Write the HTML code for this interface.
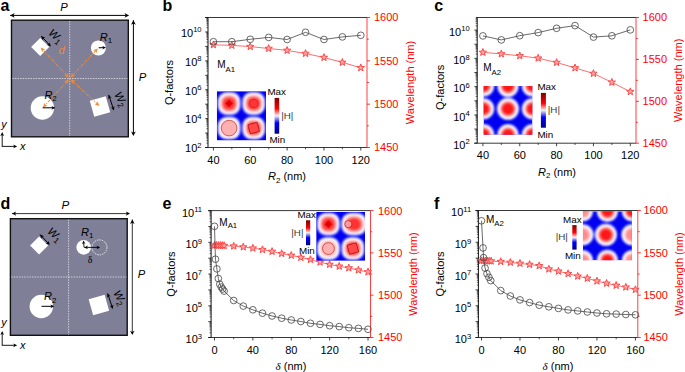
<!DOCTYPE html>
<html><head><meta charset="utf-8"><style>
html,body{margin:0;padding:0;background:#fff;}
body{width:685px;height:372px;overflow:hidden;font-family:"Liberation Sans", sans-serif;}
svg{display:block;}
</style></head><body>
<svg width="685" height="372" viewBox="0 0 685 372">
<defs>
<filter id="blur1" x="-20%" y="-20%" width="140%" height="140%"><feGaussianBlur stdDeviation="0.95"/></filter>
<filter id="blur05" x="-20%" y="-20%" width="140%" height="140%"><feGaussianBlur stdDeviation="0.45"/></filter>
<linearGradient id="cbar" x1="0" y1="0" x2="0" y2="1">
 <stop offset="0" stop-color="#800000"/>
 <stop offset="0.3" stop-color="#ff0000"/>
 <stop offset="0.5" stop-color="#f0f0f0"/>
 <stop offset="0.7" stop-color="#0000ff"/>
 <stop offset="1" stop-color="#000080"/>
</linearGradient>
</defs>
<g font-family='"Liberation Sans", sans-serif'>
<text x="0.6" y="11.3" font-size="16" font-weight="bold">a</text>
<text x="162.6" y="11.3" font-size="16" font-weight="bold">b</text>
<text x="434.3" y="11.3" font-size="16" font-weight="bold">c</text>
<text x="0.6" y="209.2" font-size="16" font-weight="bold">d</text>
<text x="162.6" y="209.2" font-size="16" font-weight="bold">e</text>
<text x="434.1" y="209.2" font-size="16" font-weight="bold">f</text>
<rect x="11.5" y="20.2" width="116.8" height="116.6" fill="#7f7f98" stroke="#111" stroke-width="1.4"/>
<line x1="69.7" y1="21" x2="69.7" y2="136" stroke="#d8d8e2" stroke-width="0.9" stroke-dasharray="1.5 1.1"/>
<line x1="12.3" y1="78.5" x2="127.5" y2="78.5" stroke="#d8d8e2" stroke-width="0.9" stroke-dasharray="1.5 1.1"/>
<rect x="33.8" y="40.6" width="12.8" height="12.8" fill="#fff" transform="rotate(45 40.2 47)"/>
<rect x="91.7" y="98.2" width="16.6" height="16.6" fill="#fff" transform="rotate(-15.6 100 106.5)"/>
<circle cx="42.4" cy="108" r="11.7" fill="#fff"/>
<circle cx="98.4" cy="47.9" r="7.5" fill="#fff"/>
<line x1="66.62" y1="75.22" x2="43.14" y2="50.14" stroke="#f08a32" stroke-width="1.1" stroke-dasharray="2.6 1.3 1 1.3"/>
<polygon points="69.02,77.77 63.85,75.76 66.56,75.14 67.35,72.48" fill="#f08a32"/>
<polygon points="40.75,47.58 45.5,49.44 43.01,50 42.29,52.45" fill="#f08a32"/>
<line x1="72.78" y1="75.22" x2="95.46" y2="51.04" stroke="#f08a32" stroke-width="1.1" stroke-dasharray="2.6 1.3 1 1.3"/>
<polygon points="70.38,77.77 72.05,72.48 72.85,75.14 75.56,75.77" fill="#f08a32"/>
<polygon points="97.85,48.48 96.31,53.34 95.59,50.9 93.1,50.33" fill="#f08a32"/>
<line x1="66.64" y1="81.8" x2="45.32" y2="104.84" stroke="#f08a32" stroke-width="1.1" stroke-dasharray="2.6 1.3 1 1.3"/>
<polygon points="69.02,79.23 67.39,84.53 66.58,81.88 63.86,81.27" fill="#f08a32"/>
<polygon points="42.94,107.41 44.45,102.54 45.19,104.98 47.68,105.53" fill="#f08a32"/>
<line x1="73" y1="81.55" x2="96.84" y2="103.58" stroke="#f08a32" stroke-width="1.1" stroke-dasharray="2.6 1.3 1 1.3"/>
<polygon points="70.43,79.18 75.74,80.81 73.08,81.62 72.48,84.33" fill="#f08a32"/>
<polygon points="99.41,105.96 94.54,104.45 96.98,103.71 97.53,101.22" fill="#f08a32"/>
<text x="58.6" y="53.8" font-size="11" font-style="italic" fill="#f08a32">d</text>
<line x1="41.2" y1="36.1" x2="49.56" y2="44.98" stroke="#000" stroke-width="1.0" /><polygon points="50.9,46.4 46.84,44.86 48.97,44.36 49.61,42.26" fill="#000"/><polygon points="41.2,36.1 45.26,37.64 43.13,38.14 42.49,40.24" fill="#000"/>
<line x1="108.7" y1="94.9" x2="113.28" y2="108.55" stroke="#000" stroke-width="1.0" /><polygon points="113.9,110.4 110.86,107.31 113.01,107.74 114.46,106.1" fill="#000"/><polygon points="108.7,94.9 111.74,97.99 109.59,97.56 108.14,99.2" fill="#000"/>
<line x1="42.6" y1="107.8" x2="53.45" y2="107.8" stroke="#000" stroke-width="1.0" /><polygon points="55.4,107.8 51.5,109.7 52.59,107.8 51.5,105.9" fill="#000"/>
<line x1="98.6" y1="47.8" x2="104.15" y2="47.65" stroke="#000" stroke-width="1.0" /><polygon points="106,47.6 102.35,49.5 103.34,47.67 102.25,45.9" fill="#000"/>
<text x="99.8" y="40.8" font-size="11" font-style="italic">R<tspan font-size="8" font-style="normal" dy="2.6">1</tspan></text>
<text x="44.4" y="98.8" font-size="11" font-style="italic">R<tspan font-size="8" font-style="normal" dy="2.6">2</tspan></text>
<text x="0" y="0" font-size="11" font-style="italic" transform="translate(47.8 34) rotate(40)">W<tspan font-size="8" font-style="normal" dy="2.6">1</tspan></text>
<text x="0" y="0" font-size="11" font-style="italic" transform="translate(114 94.5) rotate(60)">W<tspan font-size="8" font-style="normal" dy="2.6">2</tspan></text>
<line x1="10.1" y1="15.4" x2="126.8" y2="15.4" stroke="#000" stroke-width="1.0" /><polygon points="129.1,15.4 124.5,17.7 125.79,15.4 124.5,13.1" fill="#000"/><polygon points="10.1,15.4 14.7,13.1 13.41,15.4 14.7,17.7" fill="#000"/>
<line x1="133.4" y1="20.2" x2="133.4" y2="133.85" stroke="#000" stroke-width="1.0" /><polygon points="133.4,136.1 131,131.6 133.4,132.86 135.8,131.6" fill="#000"/><polygon points="133.4,20.2 135.8,24.7 133.4,23.44 131,24.7" fill="#000"/>
<text x="60.3" y="10.8" font-size="11.2" font-style="italic">P</text>
<text x="138.8" y="80.6" font-size="11.2" font-style="italic">P</text>
<line x1="2.2" y1="146.4" x2="2.2" y2="134" stroke="#000" stroke-width="0.9" /><polygon points="2.2,132 4.1,136 2.2,134.88 0.3,136" fill="#000"/>
<line x1="1.8" y1="146.4" x2="15.2" y2="146.4" stroke="#000" stroke-width="0.9" /><polygon points="17.2,146.4 13.2,148.3 14.32,146.4 13.2,144.5" fill="#000"/>
<text x="1.2" y="127.5" font-size="11" font-style="italic">y</text>
<text x="20" y="149.6" font-size="11" font-style="italic">x</text>
<rect x="10.4" y="218.7" width="116.8" height="116.6" fill="#7f7f98" stroke="#111" stroke-width="1.4"/>
<line x1="68.6" y1="219.5" x2="68.6" y2="334.5" stroke="#d8d8e2" stroke-width="0.9" stroke-dasharray="1.5 1.1"/>
<line x1="11.2" y1="277" x2="126.4" y2="277" stroke="#d8d8e2" stroke-width="0.9" stroke-dasharray="1.5 1.1"/>
<rect x="32.7" y="239.1" width="12.8" height="12.8" fill="#fff" transform="rotate(45 39.1 245.5)"/>
<rect x="90.6" y="296.7" width="16.6" height="16.6" fill="#fff" transform="rotate(-15.6 98.9 305)"/>
<circle cx="41.3" cy="306.5" r="11.7" fill="#fff"/>
<circle cx="83.7" cy="247.4" r="7.3" fill="#fff"/>
<circle cx="99.5" cy="247.4" r="7.5" fill="none" stroke="#f4f4f4" stroke-width="0.9" stroke-dasharray="1.5 1"/>
<line x1="84.1" y1="247.4" x2="83.57" y2="242.29" stroke="#000" stroke-width="0.9" /><polygon points="83.4,240.6 85.44,243.81 83.65,243.04 82.06,244.16" fill="#000"/>
<line x1="84.3" y1="247.4" x2="98.3" y2="247.4" stroke="#000" stroke-width="0.9" /><polygon points="100.1,247.4 96.5,249.2 97.51,247.4 96.5,245.6" fill="#000"/><polygon points="84.3,247.4 87.9,245.6 86.89,247.4 87.9,249.2" fill="#000"/>
<text x="87.7" y="263.1" font-size="9.8" font-family="Liberation Serif, serif" fill="#000">&#948;</text>
<line x1="40.1" y1="234.6" x2="48.46" y2="243.48" stroke="#000" stroke-width="1.0" /><polygon points="49.8,244.9 45.74,243.36 47.87,242.86 48.51,240.76" fill="#000"/><polygon points="40.1,234.6 44.16,236.14 42.03,236.64 41.39,238.74" fill="#000"/>
<line x1="107.6" y1="293.4" x2="112.18" y2="307.05" stroke="#000" stroke-width="1.0" /><polygon points="112.8,308.9 109.76,305.81 111.91,306.24 113.36,304.6" fill="#000"/><polygon points="107.6,293.4 110.64,296.49 108.49,296.06 107.04,297.7" fill="#000"/>
<line x1="41.5" y1="306.3" x2="52.35" y2="306.3" stroke="#000" stroke-width="1.0" /><polygon points="54.3,306.3 50.4,308.2 51.49,306.3 50.4,304.4" fill="#000"/>
<text x="81" y="235.8" font-size="11" font-style="italic">R<tspan font-size="8" font-style="normal" dy="2.6">1</tspan></text>
<text x="44.1" y="300.1" font-size="11" font-style="italic">R<tspan font-size="8" font-style="normal" dy="2.6">2</tspan></text>
<text x="0" y="0" font-size="11" font-style="italic" transform="translate(46.7 232.5) rotate(40)">W<tspan font-size="8" font-style="normal" dy="2.6">1</tspan></text>
<text x="0" y="0" font-size="11" font-style="italic" transform="translate(112.9 293) rotate(60)">W<tspan font-size="8" font-style="normal" dy="2.6">2</tspan></text>
<line x1="12" y1="213.6" x2="127.9" y2="213.6" stroke="#000" stroke-width="0.8" /><polygon points="130,213.6 125.8,215.7 126.98,213.6 125.8,211.5" fill="#000"/><polygon points="12,213.6 16.2,211.5 15.02,213.6 16.2,215.7" fill="#000"/>
<line x1="132.3" y1="219.5" x2="132.3" y2="332.9" stroke="#000" stroke-width="0.8" /><polygon points="132.3,335.1 130,330.7 132.3,331.93 134.6,330.7" fill="#000"/><polygon points="132.3,219.5 134.6,223.9 132.3,222.67 130,223.9" fill="#000"/>
<text x="61.4" y="209.3" font-size="11.6" font-style="italic">P</text>
<text x="137.7" y="277.7" font-size="11.2" font-style="italic">P</text>
<line x1="2.2" y1="345.3" x2="2.2" y2="332.9" stroke="#000" stroke-width="0.9" /><polygon points="2.2,330.9 4.1,334.9 2.2,333.78 0.3,334.9" fill="#000"/>
<line x1="1.8" y1="345.3" x2="15.2" y2="345.3" stroke="#000" stroke-width="0.9" /><polygon points="17.2,345.3 13.2,347.2 14.32,345.3 13.2,343.4" fill="#000"/>
<text x="1.2" y="326.4" font-size="11" font-style="italic">y</text>
<text x="20" y="348.5" font-size="11" font-style="italic">x</text>
<line x1="205" y1="17.5" x2="367" y2="17.5" stroke="#222" stroke-width="0.9"/>
<line x1="205" y1="147.5" x2="367" y2="147.5" stroke="#222" stroke-width="0.9"/>
<line x1="208" y1="17.5" x2="208" y2="147.5" stroke="#111" stroke-width="1"/>
<line x1="367" y1="17.5" x2="367" y2="147.5" stroke="#ff0000" stroke-width="0.75"/>
<line x1="205.2" y1="147.5" x2="208" y2="147.5" stroke="#111" stroke-width="0.8"/>
<line x1="206.4" y1="143.15" x2="208" y2="143.15" stroke="#111" stroke-width="0.6"/>
<line x1="206.4" y1="140.61" x2="208" y2="140.61" stroke="#111" stroke-width="0.6"/>
<line x1="206.4" y1="138.81" x2="208" y2="138.81" stroke="#111" stroke-width="0.6"/>
<line x1="206.4" y1="137.41" x2="208" y2="137.41" stroke="#111" stroke-width="0.6"/>
<line x1="206.4" y1="136.26" x2="208" y2="136.26" stroke="#111" stroke-width="0.6"/>
<line x1="206.4" y1="135.3" x2="208" y2="135.3" stroke="#111" stroke-width="0.6"/>
<line x1="206.4" y1="134.46" x2="208" y2="134.46" stroke="#111" stroke-width="0.6"/>
<line x1="206.4" y1="133.72" x2="208" y2="133.72" stroke="#111" stroke-width="0.6"/>
<line x1="205.2" y1="133.06" x2="208" y2="133.06" stroke="#111" stroke-width="0.8"/>
<line x1="206.4" y1="128.71" x2="208" y2="128.71" stroke="#111" stroke-width="0.6"/>
<line x1="206.4" y1="126.17" x2="208" y2="126.17" stroke="#111" stroke-width="0.6"/>
<line x1="206.4" y1="124.37" x2="208" y2="124.37" stroke="#111" stroke-width="0.6"/>
<line x1="206.4" y1="122.97" x2="208" y2="122.97" stroke="#111" stroke-width="0.6"/>
<line x1="206.4" y1="121.82" x2="208" y2="121.82" stroke="#111" stroke-width="0.6"/>
<line x1="206.4" y1="120.86" x2="208" y2="120.86" stroke="#111" stroke-width="0.6"/>
<line x1="206.4" y1="120.02" x2="208" y2="120.02" stroke="#111" stroke-width="0.6"/>
<line x1="206.4" y1="119.28" x2="208" y2="119.28" stroke="#111" stroke-width="0.6"/>
<line x1="205.2" y1="118.62" x2="208" y2="118.62" stroke="#111" stroke-width="0.8"/>
<line x1="206.4" y1="114.27" x2="208" y2="114.27" stroke="#111" stroke-width="0.6"/>
<line x1="206.4" y1="111.73" x2="208" y2="111.73" stroke="#111" stroke-width="0.6"/>
<line x1="206.4" y1="109.93" x2="208" y2="109.93" stroke="#111" stroke-width="0.6"/>
<line x1="206.4" y1="108.53" x2="208" y2="108.53" stroke="#111" stroke-width="0.6"/>
<line x1="206.4" y1="107.38" x2="208" y2="107.38" stroke="#111" stroke-width="0.6"/>
<line x1="206.4" y1="106.42" x2="208" y2="106.42" stroke="#111" stroke-width="0.6"/>
<line x1="206.4" y1="105.58" x2="208" y2="105.58" stroke="#111" stroke-width="0.6"/>
<line x1="206.4" y1="104.84" x2="208" y2="104.84" stroke="#111" stroke-width="0.6"/>
<line x1="205.2" y1="104.18" x2="208" y2="104.18" stroke="#111" stroke-width="0.8"/>
<line x1="206.4" y1="99.83" x2="208" y2="99.83" stroke="#111" stroke-width="0.6"/>
<line x1="206.4" y1="97.29" x2="208" y2="97.29" stroke="#111" stroke-width="0.6"/>
<line x1="206.4" y1="95.49" x2="208" y2="95.49" stroke="#111" stroke-width="0.6"/>
<line x1="206.4" y1="94.09" x2="208" y2="94.09" stroke="#111" stroke-width="0.6"/>
<line x1="206.4" y1="92.94" x2="208" y2="92.94" stroke="#111" stroke-width="0.6"/>
<line x1="206.4" y1="91.98" x2="208" y2="91.98" stroke="#111" stroke-width="0.6"/>
<line x1="206.4" y1="91.14" x2="208" y2="91.14" stroke="#111" stroke-width="0.6"/>
<line x1="206.4" y1="90.4" x2="208" y2="90.4" stroke="#111" stroke-width="0.6"/>
<line x1="205.2" y1="89.74" x2="208" y2="89.74" stroke="#111" stroke-width="0.8"/>
<line x1="206.4" y1="85.39" x2="208" y2="85.39" stroke="#111" stroke-width="0.6"/>
<line x1="206.4" y1="82.85" x2="208" y2="82.85" stroke="#111" stroke-width="0.6"/>
<line x1="206.4" y1="81.05" x2="208" y2="81.05" stroke="#111" stroke-width="0.6"/>
<line x1="206.4" y1="79.65" x2="208" y2="79.65" stroke="#111" stroke-width="0.6"/>
<line x1="206.4" y1="78.5" x2="208" y2="78.5" stroke="#111" stroke-width="0.6"/>
<line x1="206.4" y1="77.54" x2="208" y2="77.54" stroke="#111" stroke-width="0.6"/>
<line x1="206.4" y1="76.7" x2="208" y2="76.7" stroke="#111" stroke-width="0.6"/>
<line x1="206.4" y1="75.96" x2="208" y2="75.96" stroke="#111" stroke-width="0.6"/>
<line x1="205.2" y1="75.3" x2="208" y2="75.3" stroke="#111" stroke-width="0.8"/>
<line x1="206.4" y1="70.95" x2="208" y2="70.95" stroke="#111" stroke-width="0.6"/>
<line x1="206.4" y1="68.41" x2="208" y2="68.41" stroke="#111" stroke-width="0.6"/>
<line x1="206.4" y1="66.61" x2="208" y2="66.61" stroke="#111" stroke-width="0.6"/>
<line x1="206.4" y1="65.21" x2="208" y2="65.21" stroke="#111" stroke-width="0.6"/>
<line x1="206.4" y1="64.06" x2="208" y2="64.06" stroke="#111" stroke-width="0.6"/>
<line x1="206.4" y1="63.1" x2="208" y2="63.1" stroke="#111" stroke-width="0.6"/>
<line x1="206.4" y1="62.26" x2="208" y2="62.26" stroke="#111" stroke-width="0.6"/>
<line x1="206.4" y1="61.52" x2="208" y2="61.52" stroke="#111" stroke-width="0.6"/>
<line x1="205.2" y1="60.86" x2="208" y2="60.86" stroke="#111" stroke-width="0.8"/>
<line x1="206.4" y1="56.51" x2="208" y2="56.51" stroke="#111" stroke-width="0.6"/>
<line x1="206.4" y1="53.97" x2="208" y2="53.97" stroke="#111" stroke-width="0.6"/>
<line x1="206.4" y1="52.17" x2="208" y2="52.17" stroke="#111" stroke-width="0.6"/>
<line x1="206.4" y1="50.77" x2="208" y2="50.77" stroke="#111" stroke-width="0.6"/>
<line x1="206.4" y1="49.62" x2="208" y2="49.62" stroke="#111" stroke-width="0.6"/>
<line x1="206.4" y1="48.66" x2="208" y2="48.66" stroke="#111" stroke-width="0.6"/>
<line x1="206.4" y1="47.82" x2="208" y2="47.82" stroke="#111" stroke-width="0.6"/>
<line x1="206.4" y1="47.08" x2="208" y2="47.08" stroke="#111" stroke-width="0.6"/>
<line x1="205.2" y1="46.42" x2="208" y2="46.42" stroke="#111" stroke-width="0.8"/>
<line x1="206.4" y1="42.07" x2="208" y2="42.07" stroke="#111" stroke-width="0.6"/>
<line x1="206.4" y1="39.53" x2="208" y2="39.53" stroke="#111" stroke-width="0.6"/>
<line x1="206.4" y1="37.73" x2="208" y2="37.73" stroke="#111" stroke-width="0.6"/>
<line x1="206.4" y1="36.33" x2="208" y2="36.33" stroke="#111" stroke-width="0.6"/>
<line x1="206.4" y1="35.18" x2="208" y2="35.18" stroke="#111" stroke-width="0.6"/>
<line x1="206.4" y1="34.22" x2="208" y2="34.22" stroke="#111" stroke-width="0.6"/>
<line x1="206.4" y1="33.38" x2="208" y2="33.38" stroke="#111" stroke-width="0.6"/>
<line x1="206.4" y1="32.64" x2="208" y2="32.64" stroke="#111" stroke-width="0.6"/>
<line x1="205.2" y1="31.98" x2="208" y2="31.98" stroke="#111" stroke-width="0.8"/>
<line x1="206.4" y1="27.63" x2="208" y2="27.63" stroke="#111" stroke-width="0.6"/>
<line x1="206.4" y1="25.09" x2="208" y2="25.09" stroke="#111" stroke-width="0.6"/>
<line x1="206.4" y1="23.29" x2="208" y2="23.29" stroke="#111" stroke-width="0.6"/>
<line x1="206.4" y1="21.89" x2="208" y2="21.89" stroke="#111" stroke-width="0.6"/>
<line x1="206.4" y1="20.74" x2="208" y2="20.74" stroke="#111" stroke-width="0.6"/>
<line x1="206.4" y1="19.78" x2="208" y2="19.78" stroke="#111" stroke-width="0.6"/>
<line x1="206.4" y1="18.94" x2="208" y2="18.94" stroke="#111" stroke-width="0.6"/>
<line x1="206.4" y1="18.2" x2="208" y2="18.2" stroke="#111" stroke-width="0.6"/>
<line x1="205.2" y1="17.54" x2="208" y2="17.54" stroke="#111" stroke-width="0.8"/>
<text x="201.6" y="152.3" font-size="11" text-anchor="end">10<tspan font-size="7.6" dy="-4.6">2</tspan></text>
<text x="201.6" y="123.42" font-size="11" text-anchor="end">10<tspan font-size="7.6" dy="-4.6">4</tspan></text>
<text x="201.6" y="94.54" font-size="11" text-anchor="end">10<tspan font-size="7.6" dy="-4.6">6</tspan></text>
<text x="201.6" y="65.66" font-size="11" text-anchor="end">10<tspan font-size="7.6" dy="-4.6">8</tspan></text>
<text x="201.6" y="36.78" font-size="11" text-anchor="end">10<tspan font-size="7.6" dy="-4.6">10</tspan></text>
<line x1="367" y1="147.5" x2="370" y2="147.5" stroke="#ff0000" stroke-width="0.8"/>
<text x="373.9" y="151.4" font-size="11" fill="#ff0000">1450</text>
<line x1="367" y1="125.83" x2="368.8" y2="125.83" stroke="#ff0000" stroke-width="0.8"/>
<line x1="367" y1="104.17" x2="370" y2="104.17" stroke="#ff0000" stroke-width="0.8"/>
<text x="373.9" y="108.07" font-size="11" fill="#ff0000">1500</text>
<line x1="367" y1="82.5" x2="368.8" y2="82.5" stroke="#ff0000" stroke-width="0.8"/>
<line x1="367" y1="60.83" x2="370" y2="60.83" stroke="#ff0000" stroke-width="0.8"/>
<text x="373.9" y="64.73" font-size="11" fill="#ff0000">1550</text>
<line x1="367" y1="39.17" x2="368.8" y2="39.17" stroke="#ff0000" stroke-width="0.8"/>
<line x1="367" y1="17.5" x2="370" y2="17.5" stroke="#ff0000" stroke-width="0.8"/>
<text x="373.9" y="21.4" font-size="11" fill="#ff0000">1600</text>
<line x1="213.4" y1="147.5" x2="213.4" y2="150.5" stroke="#111" stroke-width="0.8"/>
<text x="213.4" y="163.6" font-size="11" text-anchor="middle">40</text>
<line x1="250.25" y1="147.5" x2="250.25" y2="150.5" stroke="#111" stroke-width="0.8"/>
<text x="250.25" y="163.6" font-size="11" text-anchor="middle">60</text>
<line x1="287.1" y1="147.5" x2="287.1" y2="150.5" stroke="#111" stroke-width="0.8"/>
<text x="287.1" y="163.6" font-size="11" text-anchor="middle">80</text>
<line x1="323.95" y1="147.5" x2="323.95" y2="150.5" stroke="#111" stroke-width="0.8"/>
<text x="323.95" y="163.6" font-size="11" text-anchor="middle">100</text>
<line x1="360.8" y1="147.5" x2="360.8" y2="150.5" stroke="#111" stroke-width="0.8"/>
<text x="360.8" y="163.6" font-size="11" text-anchor="middle">120</text>
<line x1="231.83" y1="147.5" x2="231.83" y2="149.3" stroke="#111" stroke-width="0.7"/>
<line x1="268.68" y1="147.5" x2="268.68" y2="149.3" stroke="#111" stroke-width="0.7"/>
<line x1="305.52" y1="147.5" x2="305.52" y2="149.3" stroke="#111" stroke-width="0.7"/>
<line x1="342.38" y1="147.5" x2="342.38" y2="149.3" stroke="#111" stroke-width="0.7"/>
<text x="0" y="0" font-size="11" text-anchor="middle" transform="translate(173 82.5) rotate(-90)">Q-factors</text>
<text x="0" y="0" font-size="11" text-anchor="middle" fill="#ff0000" transform="translate(414 82.5) rotate(-90)">Wavelength (nm)</text>
<text x="287" y="180" font-size="11" text-anchor="middle"><tspan font-style="italic">R</tspan><tspan font-size="8" font-style="normal" dy="2.6">2</tspan><tspan dy="-2.6"> (nm)</tspan></text>
<polyline points="213.4,44.8 231.83,45.4 250.25,46.6 268.68,48.5 287.1,50.4 305.52,53.5 323.95,57.5 342.38,62.4 360.8,67.8" fill="none" stroke="#ff4848" stroke-width="0.8"/>
<path d="M213.4 40.95 L214.34 43.51 L217.06 43.61 L214.92 45.29 L215.66 47.91 L213.4 46.4 L211.14 47.91 L211.88 45.29 L209.74 43.61 L212.46 43.51 Z" fill="#ffa8a8" stroke="#ff4848" stroke-width="1" stroke-linejoin="miter"/>
<path d="M231.83 41.55 L232.77 44.11 L235.49 44.21 L233.35 45.89 L234.09 48.51 L231.83 47 L229.56 48.51 L230.3 45.89 L228.16 44.21 L230.88 44.11 Z" fill="#ffa8a8" stroke="#ff4848" stroke-width="1" stroke-linejoin="miter"/>
<path d="M250.25 42.75 L251.19 45.31 L253.91 45.41 L251.77 47.09 L252.51 49.71 L250.25 48.2 L247.99 49.71 L248.73 47.09 L246.59 45.41 L249.31 45.31 Z" fill="#ffa8a8" stroke="#ff4848" stroke-width="1" stroke-linejoin="miter"/>
<path d="M268.68 44.65 L269.62 47.21 L272.34 47.31 L270.2 48.99 L270.94 51.61 L268.68 50.1 L266.41 51.61 L267.15 48.99 L265.01 47.31 L267.73 47.21 Z" fill="#ffa8a8" stroke="#ff4848" stroke-width="1" stroke-linejoin="miter"/>
<path d="M287.1 46.55 L288.04 49.11 L290.76 49.21 L288.62 50.89 L289.36 53.51 L287.1 52 L284.84 53.51 L285.58 50.89 L283.44 49.21 L286.16 49.11 Z" fill="#ffa8a8" stroke="#ff4848" stroke-width="1" stroke-linejoin="miter"/>
<path d="M305.52 49.65 L306.47 52.21 L309.19 52.31 L307.05 53.99 L307.79 56.61 L305.52 55.1 L303.26 56.61 L304 53.99 L301.86 52.31 L304.58 52.21 Z" fill="#ffa8a8" stroke="#ff4848" stroke-width="1" stroke-linejoin="miter"/>
<path d="M323.95 53.65 L324.89 56.21 L327.61 56.31 L325.47 57.99 L326.21 60.61 L323.95 59.1 L321.69 60.61 L322.43 57.99 L320.29 56.31 L323.01 56.21 Z" fill="#ffa8a8" stroke="#ff4848" stroke-width="1" stroke-linejoin="miter"/>
<path d="M342.38 58.55 L343.32 61.11 L346.04 61.21 L343.9 62.89 L344.64 65.51 L342.38 64 L340.11 65.51 L340.85 62.89 L338.71 61.21 L341.43 61.11 Z" fill="#ffa8a8" stroke="#ff4848" stroke-width="1" stroke-linejoin="miter"/>
<path d="M360.8 63.95 L361.74 66.51 L364.46 66.61 L362.32 68.29 L363.06 70.91 L360.8 69.4 L358.54 70.91 L359.28 68.29 L357.14 66.61 L359.86 66.51 Z" fill="#ffa8a8" stroke="#ff4848" stroke-width="1" stroke-linejoin="miter"/>
<polyline points="213.4,41.7 231.83,41.7 250.25,39.3 268.68,37.4 287.1,39.5 305.52,32.3 323.95,39.5 342.38,36.9 360.8,35.3" fill="none" stroke="#444444" stroke-width="0.8"/>
<circle cx="213.4" cy="41.7" r="3.35" fill="none" stroke="#444444" stroke-width="0.8"/>
<circle cx="231.83" cy="41.7" r="3.35" fill="none" stroke="#444444" stroke-width="0.8"/>
<circle cx="250.25" cy="39.3" r="3.35" fill="none" stroke="#444444" stroke-width="0.8"/>
<circle cx="268.68" cy="37.4" r="3.35" fill="none" stroke="#444444" stroke-width="0.8"/>
<circle cx="287.1" cy="39.5" r="3.35" fill="none" stroke="#444444" stroke-width="0.8"/>
<circle cx="305.52" cy="32.3" r="3.35" fill="none" stroke="#444444" stroke-width="0.8"/>
<circle cx="323.95" cy="39.5" r="3.35" fill="none" stroke="#444444" stroke-width="0.8"/>
<circle cx="342.38" cy="36.9" r="3.35" fill="none" stroke="#444444" stroke-width="0.8"/>
<circle cx="360.8" cy="35.3" r="3.35" fill="none" stroke="#444444" stroke-width="0.8"/>
<line x1="476.2" y1="17.5" x2="636" y2="17.5" stroke="#222" stroke-width="0.9"/>
<line x1="474.2" y1="143.2" x2="636" y2="143.2" stroke="#222" stroke-width="0.9"/>
<line x1="477.2" y1="17.5" x2="477.2" y2="143.2" stroke="#111" stroke-width="1"/>
<line x1="636" y1="17.5" x2="636" y2="143.2" stroke="#ff0000" stroke-width="0.75"/>
<line x1="474.4" y1="143.2" x2="477.2" y2="143.2" stroke="#111" stroke-width="0.8"/>
<line x1="475.6" y1="138.94" x2="477.2" y2="138.94" stroke="#111" stroke-width="0.6"/>
<line x1="475.6" y1="136.45" x2="477.2" y2="136.45" stroke="#111" stroke-width="0.6"/>
<line x1="475.6" y1="134.69" x2="477.2" y2="134.69" stroke="#111" stroke-width="0.6"/>
<line x1="475.6" y1="133.32" x2="477.2" y2="133.32" stroke="#111" stroke-width="0.6"/>
<line x1="475.6" y1="132.2" x2="477.2" y2="132.2" stroke="#111" stroke-width="0.6"/>
<line x1="475.6" y1="131.25" x2="477.2" y2="131.25" stroke="#111" stroke-width="0.6"/>
<line x1="475.6" y1="130.43" x2="477.2" y2="130.43" stroke="#111" stroke-width="0.6"/>
<line x1="475.6" y1="129.71" x2="477.2" y2="129.71" stroke="#111" stroke-width="0.6"/>
<line x1="474.4" y1="129.06" x2="477.2" y2="129.06" stroke="#111" stroke-width="0.8"/>
<line x1="475.6" y1="124.8" x2="477.2" y2="124.8" stroke="#111" stroke-width="0.6"/>
<line x1="475.6" y1="122.31" x2="477.2" y2="122.31" stroke="#111" stroke-width="0.6"/>
<line x1="475.6" y1="120.55" x2="477.2" y2="120.55" stroke="#111" stroke-width="0.6"/>
<line x1="475.6" y1="119.18" x2="477.2" y2="119.18" stroke="#111" stroke-width="0.6"/>
<line x1="475.6" y1="118.06" x2="477.2" y2="118.06" stroke="#111" stroke-width="0.6"/>
<line x1="475.6" y1="117.11" x2="477.2" y2="117.11" stroke="#111" stroke-width="0.6"/>
<line x1="475.6" y1="116.29" x2="477.2" y2="116.29" stroke="#111" stroke-width="0.6"/>
<line x1="475.6" y1="115.57" x2="477.2" y2="115.57" stroke="#111" stroke-width="0.6"/>
<line x1="474.4" y1="114.92" x2="477.2" y2="114.92" stroke="#111" stroke-width="0.8"/>
<line x1="475.6" y1="110.66" x2="477.2" y2="110.66" stroke="#111" stroke-width="0.6"/>
<line x1="475.6" y1="108.17" x2="477.2" y2="108.17" stroke="#111" stroke-width="0.6"/>
<line x1="475.6" y1="106.41" x2="477.2" y2="106.41" stroke="#111" stroke-width="0.6"/>
<line x1="475.6" y1="105.04" x2="477.2" y2="105.04" stroke="#111" stroke-width="0.6"/>
<line x1="475.6" y1="103.92" x2="477.2" y2="103.92" stroke="#111" stroke-width="0.6"/>
<line x1="475.6" y1="102.97" x2="477.2" y2="102.97" stroke="#111" stroke-width="0.6"/>
<line x1="475.6" y1="102.15" x2="477.2" y2="102.15" stroke="#111" stroke-width="0.6"/>
<line x1="475.6" y1="101.43" x2="477.2" y2="101.43" stroke="#111" stroke-width="0.6"/>
<line x1="474.4" y1="100.78" x2="477.2" y2="100.78" stroke="#111" stroke-width="0.8"/>
<line x1="475.6" y1="96.52" x2="477.2" y2="96.52" stroke="#111" stroke-width="0.6"/>
<line x1="475.6" y1="94.03" x2="477.2" y2="94.03" stroke="#111" stroke-width="0.6"/>
<line x1="475.6" y1="92.27" x2="477.2" y2="92.27" stroke="#111" stroke-width="0.6"/>
<line x1="475.6" y1="90.9" x2="477.2" y2="90.9" stroke="#111" stroke-width="0.6"/>
<line x1="475.6" y1="89.78" x2="477.2" y2="89.78" stroke="#111" stroke-width="0.6"/>
<line x1="475.6" y1="88.83" x2="477.2" y2="88.83" stroke="#111" stroke-width="0.6"/>
<line x1="475.6" y1="88.01" x2="477.2" y2="88.01" stroke="#111" stroke-width="0.6"/>
<line x1="475.6" y1="87.29" x2="477.2" y2="87.29" stroke="#111" stroke-width="0.6"/>
<line x1="474.4" y1="86.64" x2="477.2" y2="86.64" stroke="#111" stroke-width="0.8"/>
<line x1="475.6" y1="82.38" x2="477.2" y2="82.38" stroke="#111" stroke-width="0.6"/>
<line x1="475.6" y1="79.89" x2="477.2" y2="79.89" stroke="#111" stroke-width="0.6"/>
<line x1="475.6" y1="78.13" x2="477.2" y2="78.13" stroke="#111" stroke-width="0.6"/>
<line x1="475.6" y1="76.76" x2="477.2" y2="76.76" stroke="#111" stroke-width="0.6"/>
<line x1="475.6" y1="75.64" x2="477.2" y2="75.64" stroke="#111" stroke-width="0.6"/>
<line x1="475.6" y1="74.69" x2="477.2" y2="74.69" stroke="#111" stroke-width="0.6"/>
<line x1="475.6" y1="73.87" x2="477.2" y2="73.87" stroke="#111" stroke-width="0.6"/>
<line x1="475.6" y1="73.15" x2="477.2" y2="73.15" stroke="#111" stroke-width="0.6"/>
<line x1="474.4" y1="72.5" x2="477.2" y2="72.5" stroke="#111" stroke-width="0.8"/>
<line x1="475.6" y1="68.24" x2="477.2" y2="68.24" stroke="#111" stroke-width="0.6"/>
<line x1="475.6" y1="65.75" x2="477.2" y2="65.75" stroke="#111" stroke-width="0.6"/>
<line x1="475.6" y1="63.99" x2="477.2" y2="63.99" stroke="#111" stroke-width="0.6"/>
<line x1="475.6" y1="62.62" x2="477.2" y2="62.62" stroke="#111" stroke-width="0.6"/>
<line x1="475.6" y1="61.5" x2="477.2" y2="61.5" stroke="#111" stroke-width="0.6"/>
<line x1="475.6" y1="60.55" x2="477.2" y2="60.55" stroke="#111" stroke-width="0.6"/>
<line x1="475.6" y1="59.73" x2="477.2" y2="59.73" stroke="#111" stroke-width="0.6"/>
<line x1="475.6" y1="59.01" x2="477.2" y2="59.01" stroke="#111" stroke-width="0.6"/>
<line x1="474.4" y1="58.36" x2="477.2" y2="58.36" stroke="#111" stroke-width="0.8"/>
<line x1="475.6" y1="54.1" x2="477.2" y2="54.1" stroke="#111" stroke-width="0.6"/>
<line x1="475.6" y1="51.61" x2="477.2" y2="51.61" stroke="#111" stroke-width="0.6"/>
<line x1="475.6" y1="49.85" x2="477.2" y2="49.85" stroke="#111" stroke-width="0.6"/>
<line x1="475.6" y1="48.48" x2="477.2" y2="48.48" stroke="#111" stroke-width="0.6"/>
<line x1="475.6" y1="47.36" x2="477.2" y2="47.36" stroke="#111" stroke-width="0.6"/>
<line x1="475.6" y1="46.41" x2="477.2" y2="46.41" stroke="#111" stroke-width="0.6"/>
<line x1="475.6" y1="45.59" x2="477.2" y2="45.59" stroke="#111" stroke-width="0.6"/>
<line x1="475.6" y1="44.87" x2="477.2" y2="44.87" stroke="#111" stroke-width="0.6"/>
<line x1="474.4" y1="44.22" x2="477.2" y2="44.22" stroke="#111" stroke-width="0.8"/>
<line x1="475.6" y1="39.96" x2="477.2" y2="39.96" stroke="#111" stroke-width="0.6"/>
<line x1="475.6" y1="37.47" x2="477.2" y2="37.47" stroke="#111" stroke-width="0.6"/>
<line x1="475.6" y1="35.71" x2="477.2" y2="35.71" stroke="#111" stroke-width="0.6"/>
<line x1="475.6" y1="34.34" x2="477.2" y2="34.34" stroke="#111" stroke-width="0.6"/>
<line x1="475.6" y1="33.22" x2="477.2" y2="33.22" stroke="#111" stroke-width="0.6"/>
<line x1="475.6" y1="32.27" x2="477.2" y2="32.27" stroke="#111" stroke-width="0.6"/>
<line x1="475.6" y1="31.45" x2="477.2" y2="31.45" stroke="#111" stroke-width="0.6"/>
<line x1="475.6" y1="30.73" x2="477.2" y2="30.73" stroke="#111" stroke-width="0.6"/>
<line x1="474.4" y1="30.08" x2="477.2" y2="30.08" stroke="#111" stroke-width="0.8"/>
<line x1="475.6" y1="25.82" x2="477.2" y2="25.82" stroke="#111" stroke-width="0.6"/>
<line x1="475.6" y1="23.33" x2="477.2" y2="23.33" stroke="#111" stroke-width="0.6"/>
<line x1="475.6" y1="21.57" x2="477.2" y2="21.57" stroke="#111" stroke-width="0.6"/>
<line x1="475.6" y1="20.2" x2="477.2" y2="20.2" stroke="#111" stroke-width="0.6"/>
<line x1="475.6" y1="19.08" x2="477.2" y2="19.08" stroke="#111" stroke-width="0.6"/>
<line x1="475.6" y1="18.13" x2="477.2" y2="18.13" stroke="#111" stroke-width="0.6"/>
<text x="469.7" y="149" font-size="11" text-anchor="end">10<tspan font-size="7.6" dy="-4.6">2</tspan></text>
<text x="469.7" y="120.72" font-size="11" text-anchor="end">10<tspan font-size="7.6" dy="-4.6">4</tspan></text>
<text x="469.7" y="92.44" font-size="11" text-anchor="end">10<tspan font-size="7.6" dy="-4.6">6</tspan></text>
<text x="469.7" y="64.16" font-size="11" text-anchor="end">10<tspan font-size="7.6" dy="-4.6">8</tspan></text>
<text x="469.7" y="35.88" font-size="11" text-anchor="end">10<tspan font-size="7.6" dy="-4.6">10</tspan></text>
<line x1="636" y1="143.2" x2="639" y2="143.2" stroke="#ff0000" stroke-width="0.8"/>
<text x="642.6" y="147.1" font-size="11" fill="#ff0000">1450</text>
<line x1="636" y1="122.25" x2="637.8" y2="122.25" stroke="#ff0000" stroke-width="0.8"/>
<line x1="636" y1="101.3" x2="639" y2="101.3" stroke="#ff0000" stroke-width="0.8"/>
<text x="642.6" y="105.2" font-size="11" fill="#ff0000">1500</text>
<line x1="636" y1="80.35" x2="637.8" y2="80.35" stroke="#ff0000" stroke-width="0.8"/>
<line x1="636" y1="59.4" x2="639" y2="59.4" stroke="#ff0000" stroke-width="0.8"/>
<text x="642.6" y="63.3" font-size="11" fill="#ff0000">1550</text>
<line x1="636" y1="38.45" x2="637.8" y2="38.45" stroke="#ff0000" stroke-width="0.8"/>
<line x1="636" y1="17.5" x2="639" y2="17.5" stroke="#ff0000" stroke-width="0.8"/>
<text x="642.6" y="21.4" font-size="11" fill="#ff0000">1600</text>
<line x1="482.9" y1="143.2" x2="482.9" y2="146.2" stroke="#111" stroke-width="0.8"/>
<text x="482.9" y="159.3" font-size="11" text-anchor="middle">40</text>
<line x1="519.75" y1="143.2" x2="519.75" y2="146.2" stroke="#111" stroke-width="0.8"/>
<text x="519.75" y="159.3" font-size="11" text-anchor="middle">60</text>
<line x1="556.6" y1="143.2" x2="556.6" y2="146.2" stroke="#111" stroke-width="0.8"/>
<text x="556.6" y="159.3" font-size="11" text-anchor="middle">80</text>
<line x1="593.45" y1="143.2" x2="593.45" y2="146.2" stroke="#111" stroke-width="0.8"/>
<text x="593.45" y="159.3" font-size="11" text-anchor="middle">100</text>
<line x1="630.3" y1="143.2" x2="630.3" y2="146.2" stroke="#111" stroke-width="0.8"/>
<text x="630.3" y="159.3" font-size="11" text-anchor="middle">120</text>
<line x1="501.32" y1="143.2" x2="501.32" y2="145" stroke="#111" stroke-width="0.7"/>
<line x1="538.17" y1="143.2" x2="538.17" y2="145" stroke="#111" stroke-width="0.7"/>
<line x1="575.02" y1="143.2" x2="575.02" y2="145" stroke="#111" stroke-width="0.7"/>
<line x1="611.88" y1="143.2" x2="611.88" y2="145" stroke="#111" stroke-width="0.7"/>
<text x="0" y="0" font-size="11" text-anchor="middle" transform="translate(443.5 87.35) rotate(-90)">Q-factors</text>
<text x="0" y="0" font-size="11" text-anchor="middle" fill="#ff0000" transform="translate(682 80.35) rotate(-90)">Wavelength (nm)</text>
<text x="557" y="175.8" font-size="11" text-anchor="middle"><tspan font-style="italic">R</tspan><tspan font-size="8" font-style="normal" dy="2.6">2</tspan><tspan dy="-2.6"> (nm)</tspan></text>
<polyline points="482.9,52.4 501.32,53.9 519.75,55.8 538.17,58.2 556.6,62.5 575.02,67.9 593.45,73.5 611.88,82.3 630.3,91.7" fill="none" stroke="#ff4848" stroke-width="0.8"/>
<path d="M482.9 48.55 L483.84 51.11 L486.56 51.21 L484.42 52.89 L485.16 55.51 L482.9 54 L480.64 55.51 L481.38 52.89 L479.24 51.21 L481.96 51.11 Z" fill="#ffa8a8" stroke="#ff4848" stroke-width="1" stroke-linejoin="miter"/>
<path d="M501.32 50.05 L502.27 52.61 L504.99 52.71 L502.85 54.39 L503.59 57.01 L501.32 55.5 L499.06 57.01 L499.8 54.39 L497.66 52.71 L500.38 52.61 Z" fill="#ffa8a8" stroke="#ff4848" stroke-width="1" stroke-linejoin="miter"/>
<path d="M519.75 51.95 L520.69 54.51 L523.41 54.61 L521.27 56.29 L522.01 58.91 L519.75 57.4 L517.49 58.91 L518.23 56.29 L516.09 54.61 L518.81 54.51 Z" fill="#ffa8a8" stroke="#ff4848" stroke-width="1" stroke-linejoin="miter"/>
<path d="M538.17 54.35 L539.12 56.91 L541.84 57.01 L539.7 58.69 L540.44 61.31 L538.17 59.8 L535.91 61.31 L536.65 58.69 L534.51 57.01 L537.23 56.91 Z" fill="#ffa8a8" stroke="#ff4848" stroke-width="1" stroke-linejoin="miter"/>
<path d="M556.6 58.65 L557.54 61.21 L560.26 61.31 L558.12 62.99 L558.86 65.61 L556.6 64.1 L554.34 65.61 L555.08 62.99 L552.94 61.31 L555.66 61.21 Z" fill="#ffa8a8" stroke="#ff4848" stroke-width="1" stroke-linejoin="miter"/>
<path d="M575.02 64.05 L575.97 66.61 L578.69 66.71 L576.55 68.39 L577.29 71.01 L575.02 69.5 L572.76 71.01 L573.5 68.39 L571.36 66.71 L574.08 66.61 Z" fill="#ffa8a8" stroke="#ff4848" stroke-width="1" stroke-linejoin="miter"/>
<path d="M593.45 69.65 L594.39 72.21 L597.11 72.31 L594.97 73.99 L595.71 76.61 L593.45 75.1 L591.19 76.61 L591.93 73.99 L589.79 72.31 L592.51 72.21 Z" fill="#ffa8a8" stroke="#ff4848" stroke-width="1" stroke-linejoin="miter"/>
<path d="M611.88 78.45 L612.82 81.01 L615.54 81.11 L613.4 82.79 L614.14 85.41 L611.88 83.9 L609.61 85.41 L610.35 82.79 L608.21 81.11 L610.93 81.01 Z" fill="#ffa8a8" stroke="#ff4848" stroke-width="1" stroke-linejoin="miter"/>
<path d="M630.3 87.85 L631.24 90.41 L633.96 90.51 L631.82 92.19 L632.56 94.81 L630.3 93.3 L628.04 94.81 L628.78 92.19 L626.64 90.51 L629.36 90.41 Z" fill="#ffa8a8" stroke="#ff4848" stroke-width="1" stroke-linejoin="miter"/>
<polyline points="482.9,35.9 501.32,39.9 519.75,35.7 538.17,32.6 556.6,28.3 575.02,25.6 593.45,37.1 611.88,35.8 630.3,29.9" fill="none" stroke="#444444" stroke-width="0.8"/>
<circle cx="482.9" cy="35.9" r="3.35" fill="none" stroke="#444444" stroke-width="0.8"/>
<circle cx="501.32" cy="39.9" r="3.35" fill="none" stroke="#444444" stroke-width="0.8"/>
<circle cx="519.75" cy="35.7" r="3.35" fill="none" stroke="#444444" stroke-width="0.8"/>
<circle cx="538.17" cy="32.6" r="3.35" fill="none" stroke="#444444" stroke-width="0.8"/>
<circle cx="556.6" cy="28.3" r="3.35" fill="none" stroke="#444444" stroke-width="0.8"/>
<circle cx="575.02" cy="25.6" r="3.35" fill="none" stroke="#444444" stroke-width="0.8"/>
<circle cx="593.45" cy="37.1" r="3.35" fill="none" stroke="#444444" stroke-width="0.8"/>
<circle cx="611.88" cy="35.8" r="3.35" fill="none" stroke="#444444" stroke-width="0.8"/>
<circle cx="630.3" cy="29.9" r="3.35" fill="none" stroke="#444444" stroke-width="0.8"/>
<line x1="208.1" y1="210.6" x2="370.5" y2="210.6" stroke="#222" stroke-width="0.9"/>
<line x1="208.1" y1="337.5" x2="370.5" y2="337.5" stroke="#222" stroke-width="0.9"/>
<line x1="211.1" y1="210.6" x2="211.1" y2="337.5" stroke="#111" stroke-width="1"/>
<line x1="370.5" y1="210.6" x2="370.5" y2="337.5" stroke="#ff0000" stroke-width="0.75"/>
<line x1="208.3" y1="337.5" x2="211.1" y2="337.5" stroke="#111" stroke-width="0.8"/>
<line x1="209.5" y1="332.73" x2="211.1" y2="332.73" stroke="#111" stroke-width="0.6"/>
<line x1="209.5" y1="329.93" x2="211.1" y2="329.93" stroke="#111" stroke-width="0.6"/>
<line x1="209.5" y1="327.95" x2="211.1" y2="327.95" stroke="#111" stroke-width="0.6"/>
<line x1="209.5" y1="326.41" x2="211.1" y2="326.41" stroke="#111" stroke-width="0.6"/>
<line x1="209.5" y1="325.16" x2="211.1" y2="325.16" stroke="#111" stroke-width="0.6"/>
<line x1="209.5" y1="324.1" x2="211.1" y2="324.1" stroke="#111" stroke-width="0.6"/>
<line x1="209.5" y1="323.18" x2="211.1" y2="323.18" stroke="#111" stroke-width="0.6"/>
<line x1="209.5" y1="322.37" x2="211.1" y2="322.37" stroke="#111" stroke-width="0.6"/>
<line x1="208.3" y1="321.64" x2="211.1" y2="321.64" stroke="#111" stroke-width="0.8"/>
<line x1="209.5" y1="316.87" x2="211.1" y2="316.87" stroke="#111" stroke-width="0.6"/>
<line x1="209.5" y1="314.07" x2="211.1" y2="314.07" stroke="#111" stroke-width="0.6"/>
<line x1="209.5" y1="312.09" x2="211.1" y2="312.09" stroke="#111" stroke-width="0.6"/>
<line x1="209.5" y1="310.55" x2="211.1" y2="310.55" stroke="#111" stroke-width="0.6"/>
<line x1="209.5" y1="309.3" x2="211.1" y2="309.3" stroke="#111" stroke-width="0.6"/>
<line x1="209.5" y1="308.24" x2="211.1" y2="308.24" stroke="#111" stroke-width="0.6"/>
<line x1="209.5" y1="307.32" x2="211.1" y2="307.32" stroke="#111" stroke-width="0.6"/>
<line x1="209.5" y1="306.51" x2="211.1" y2="306.51" stroke="#111" stroke-width="0.6"/>
<line x1="208.3" y1="305.78" x2="211.1" y2="305.78" stroke="#111" stroke-width="0.8"/>
<line x1="209.5" y1="301.01" x2="211.1" y2="301.01" stroke="#111" stroke-width="0.6"/>
<line x1="209.5" y1="298.21" x2="211.1" y2="298.21" stroke="#111" stroke-width="0.6"/>
<line x1="209.5" y1="296.23" x2="211.1" y2="296.23" stroke="#111" stroke-width="0.6"/>
<line x1="209.5" y1="294.69" x2="211.1" y2="294.69" stroke="#111" stroke-width="0.6"/>
<line x1="209.5" y1="293.44" x2="211.1" y2="293.44" stroke="#111" stroke-width="0.6"/>
<line x1="209.5" y1="292.38" x2="211.1" y2="292.38" stroke="#111" stroke-width="0.6"/>
<line x1="209.5" y1="291.46" x2="211.1" y2="291.46" stroke="#111" stroke-width="0.6"/>
<line x1="209.5" y1="290.65" x2="211.1" y2="290.65" stroke="#111" stroke-width="0.6"/>
<line x1="208.3" y1="289.92" x2="211.1" y2="289.92" stroke="#111" stroke-width="0.8"/>
<line x1="209.5" y1="285.15" x2="211.1" y2="285.15" stroke="#111" stroke-width="0.6"/>
<line x1="209.5" y1="282.35" x2="211.1" y2="282.35" stroke="#111" stroke-width="0.6"/>
<line x1="209.5" y1="280.37" x2="211.1" y2="280.37" stroke="#111" stroke-width="0.6"/>
<line x1="209.5" y1="278.83" x2="211.1" y2="278.83" stroke="#111" stroke-width="0.6"/>
<line x1="209.5" y1="277.58" x2="211.1" y2="277.58" stroke="#111" stroke-width="0.6"/>
<line x1="209.5" y1="276.52" x2="211.1" y2="276.52" stroke="#111" stroke-width="0.6"/>
<line x1="209.5" y1="275.6" x2="211.1" y2="275.6" stroke="#111" stroke-width="0.6"/>
<line x1="209.5" y1="274.79" x2="211.1" y2="274.79" stroke="#111" stroke-width="0.6"/>
<line x1="208.3" y1="274.06" x2="211.1" y2="274.06" stroke="#111" stroke-width="0.8"/>
<line x1="209.5" y1="269.29" x2="211.1" y2="269.29" stroke="#111" stroke-width="0.6"/>
<line x1="209.5" y1="266.49" x2="211.1" y2="266.49" stroke="#111" stroke-width="0.6"/>
<line x1="209.5" y1="264.51" x2="211.1" y2="264.51" stroke="#111" stroke-width="0.6"/>
<line x1="209.5" y1="262.97" x2="211.1" y2="262.97" stroke="#111" stroke-width="0.6"/>
<line x1="209.5" y1="261.72" x2="211.1" y2="261.72" stroke="#111" stroke-width="0.6"/>
<line x1="209.5" y1="260.66" x2="211.1" y2="260.66" stroke="#111" stroke-width="0.6"/>
<line x1="209.5" y1="259.74" x2="211.1" y2="259.74" stroke="#111" stroke-width="0.6"/>
<line x1="209.5" y1="258.93" x2="211.1" y2="258.93" stroke="#111" stroke-width="0.6"/>
<line x1="208.3" y1="258.2" x2="211.1" y2="258.2" stroke="#111" stroke-width="0.8"/>
<line x1="209.5" y1="253.43" x2="211.1" y2="253.43" stroke="#111" stroke-width="0.6"/>
<line x1="209.5" y1="250.63" x2="211.1" y2="250.63" stroke="#111" stroke-width="0.6"/>
<line x1="209.5" y1="248.65" x2="211.1" y2="248.65" stroke="#111" stroke-width="0.6"/>
<line x1="209.5" y1="247.11" x2="211.1" y2="247.11" stroke="#111" stroke-width="0.6"/>
<line x1="209.5" y1="245.86" x2="211.1" y2="245.86" stroke="#111" stroke-width="0.6"/>
<line x1="209.5" y1="244.8" x2="211.1" y2="244.8" stroke="#111" stroke-width="0.6"/>
<line x1="209.5" y1="243.88" x2="211.1" y2="243.88" stroke="#111" stroke-width="0.6"/>
<line x1="209.5" y1="243.07" x2="211.1" y2="243.07" stroke="#111" stroke-width="0.6"/>
<line x1="208.3" y1="242.34" x2="211.1" y2="242.34" stroke="#111" stroke-width="0.8"/>
<line x1="209.5" y1="237.57" x2="211.1" y2="237.57" stroke="#111" stroke-width="0.6"/>
<line x1="209.5" y1="234.77" x2="211.1" y2="234.77" stroke="#111" stroke-width="0.6"/>
<line x1="209.5" y1="232.79" x2="211.1" y2="232.79" stroke="#111" stroke-width="0.6"/>
<line x1="209.5" y1="231.25" x2="211.1" y2="231.25" stroke="#111" stroke-width="0.6"/>
<line x1="209.5" y1="230" x2="211.1" y2="230" stroke="#111" stroke-width="0.6"/>
<line x1="209.5" y1="228.94" x2="211.1" y2="228.94" stroke="#111" stroke-width="0.6"/>
<line x1="209.5" y1="228.02" x2="211.1" y2="228.02" stroke="#111" stroke-width="0.6"/>
<line x1="209.5" y1="227.21" x2="211.1" y2="227.21" stroke="#111" stroke-width="0.6"/>
<line x1="208.3" y1="226.48" x2="211.1" y2="226.48" stroke="#111" stroke-width="0.8"/>
<line x1="209.5" y1="221.71" x2="211.1" y2="221.71" stroke="#111" stroke-width="0.6"/>
<line x1="209.5" y1="218.91" x2="211.1" y2="218.91" stroke="#111" stroke-width="0.6"/>
<line x1="209.5" y1="216.93" x2="211.1" y2="216.93" stroke="#111" stroke-width="0.6"/>
<line x1="209.5" y1="215.39" x2="211.1" y2="215.39" stroke="#111" stroke-width="0.6"/>
<line x1="209.5" y1="214.14" x2="211.1" y2="214.14" stroke="#111" stroke-width="0.6"/>
<line x1="209.5" y1="213.08" x2="211.1" y2="213.08" stroke="#111" stroke-width="0.6"/>
<line x1="209.5" y1="212.16" x2="211.1" y2="212.16" stroke="#111" stroke-width="0.6"/>
<line x1="209.5" y1="211.35" x2="211.1" y2="211.35" stroke="#111" stroke-width="0.6"/>
<line x1="208.3" y1="210.62" x2="211.1" y2="210.62" stroke="#111" stroke-width="0.8"/>
<text x="202.1" y="343.4" font-size="11" text-anchor="end">10<tspan font-size="7.6" dy="-4.6">3</tspan></text>
<text x="202.1" y="311.68" font-size="11" text-anchor="end">10<tspan font-size="7.6" dy="-4.6">5</tspan></text>
<text x="202.1" y="279.96" font-size="11" text-anchor="end">10<tspan font-size="7.6" dy="-4.6">7</tspan></text>
<text x="202.1" y="248.24" font-size="11" text-anchor="end">10<tspan font-size="7.6" dy="-4.6">9</tspan></text>
<text x="202.1" y="216.52" font-size="11" text-anchor="end">10<tspan font-size="7.6" dy="-4.6">11</tspan></text>
<line x1="370.5" y1="337.5" x2="373.5" y2="337.5" stroke="#ff0000" stroke-width="0.8"/>
<text x="378" y="341.4" font-size="11" fill="#ff0000">1450</text>
<line x1="370.5" y1="316.35" x2="372.3" y2="316.35" stroke="#ff0000" stroke-width="0.8"/>
<line x1="370.5" y1="295.2" x2="373.5" y2="295.2" stroke="#ff0000" stroke-width="0.8"/>
<text x="378" y="299.1" font-size="11" fill="#ff0000">1500</text>
<line x1="370.5" y1="274.05" x2="372.3" y2="274.05" stroke="#ff0000" stroke-width="0.8"/>
<line x1="370.5" y1="252.9" x2="373.5" y2="252.9" stroke="#ff0000" stroke-width="0.8"/>
<text x="378" y="256.8" font-size="11" fill="#ff0000">1550</text>
<line x1="370.5" y1="231.75" x2="372.3" y2="231.75" stroke="#ff0000" stroke-width="0.8"/>
<line x1="370.5" y1="210.6" x2="373.5" y2="210.6" stroke="#ff0000" stroke-width="0.8"/>
<text x="378" y="214.5" font-size="11" fill="#ff0000">1600</text>
<line x1="214.5" y1="337.5" x2="214.5" y2="340.5" stroke="#111" stroke-width="0.8"/>
<text x="214.5" y="353.7" font-size="11" text-anchor="middle">0</text>
<line x1="252.88" y1="337.5" x2="252.88" y2="340.5" stroke="#111" stroke-width="0.8"/>
<text x="252.88" y="353.7" font-size="11" text-anchor="middle">40</text>
<line x1="291.25" y1="337.5" x2="291.25" y2="340.5" stroke="#111" stroke-width="0.8"/>
<text x="291.25" y="353.7" font-size="11" text-anchor="middle">80</text>
<line x1="329.63" y1="337.5" x2="329.63" y2="340.5" stroke="#111" stroke-width="0.8"/>
<text x="329.63" y="353.7" font-size="11" text-anchor="middle">120</text>
<line x1="368" y1="337.5" x2="368" y2="340.5" stroke="#111" stroke-width="0.8"/>
<text x="368" y="353.7" font-size="11" text-anchor="middle">160</text>
<line x1="233.69" y1="337.5" x2="233.69" y2="339.3" stroke="#111" stroke-width="0.7"/>
<line x1="272.06" y1="337.5" x2="272.06" y2="339.3" stroke="#111" stroke-width="0.7"/>
<line x1="310.44" y1="337.5" x2="310.44" y2="339.3" stroke="#111" stroke-width="0.7"/>
<line x1="348.82" y1="337.5" x2="348.82" y2="339.3" stroke="#111" stroke-width="0.7"/>
<text x="0" y="0" font-size="11" text-anchor="middle" transform="translate(175 274.05) rotate(-90)">Q-factors</text>
<text x="0" y="0" font-size="11" text-anchor="middle" fill="#ff0000" transform="translate(417 274.05) rotate(-90)">Wavelength (nm)</text>
<text x="291" y="370.2" font-size="11" text-anchor="middle"><tspan font-family="Liberation Serif, serif" font-style="italic">&#948;</tspan> (nm)</text>
<polyline points="214.5,245.2 216.42,245.3 218.34,245.4 220.26,245.4 222.18,245.5 224.09,245.6 233.69,246.1 243.28,247 252.88,248.2 262.47,249.7 272.06,251.5 281.66,253.6 291.25,255.4 300.85,257.5 310.44,259.6 320.03,262.2 329.63,264.5 339.22,266.3 348.82,268 358.41,270.1 368,272" fill="none" stroke="#ff4848" stroke-width="0.8"/>
<path d="M214.5 241.35 L215.44 243.91 L218.16 244.01 L216.02 245.69 L216.76 248.31 L214.5 246.8 L212.24 248.31 L212.98 245.69 L210.84 244.01 L213.56 243.91 Z" fill="#ffa8a8" stroke="#ff4848" stroke-width="1" stroke-linejoin="miter"/>
<path d="M216.42 241.45 L217.36 244.01 L220.08 244.11 L217.94 245.79 L218.68 248.41 L216.42 246.9 L214.16 248.41 L214.9 245.79 L212.76 244.11 L215.48 244.01 Z" fill="#ffa8a8" stroke="#ff4848" stroke-width="1" stroke-linejoin="miter"/>
<path d="M218.34 241.55 L219.28 244.11 L222 244.21 L219.86 245.89 L220.6 248.51 L218.34 247 L216.07 248.51 L216.82 245.89 L214.68 244.21 L217.4 244.11 Z" fill="#ffa8a8" stroke="#ff4848" stroke-width="1" stroke-linejoin="miter"/>
<path d="M220.26 241.55 L221.2 244.11 L223.92 244.21 L221.78 245.89 L222.52 248.51 L220.26 247 L217.99 248.51 L218.73 245.89 L216.59 244.21 L219.32 244.11 Z" fill="#ffa8a8" stroke="#ff4848" stroke-width="1" stroke-linejoin="miter"/>
<path d="M222.18 241.65 L223.12 244.21 L225.84 244.31 L223.7 245.99 L224.44 248.61 L222.18 247.1 L219.91 248.61 L220.65 245.99 L218.51 244.31 L221.23 244.21 Z" fill="#ffa8a8" stroke="#ff4848" stroke-width="1" stroke-linejoin="miter"/>
<path d="M224.09 241.75 L225.03 244.31 L227.76 244.41 L225.62 246.09 L226.36 248.71 L224.09 247.2 L221.83 248.71 L222.57 246.09 L220.43 244.41 L223.15 244.31 Z" fill="#ffa8a8" stroke="#ff4848" stroke-width="1" stroke-linejoin="miter"/>
<path d="M233.69 242.25 L234.63 244.81 L237.35 244.91 L235.21 246.59 L235.95 249.21 L233.69 247.7 L231.43 249.21 L232.17 246.59 L230.03 244.91 L232.75 244.81 Z" fill="#ffa8a8" stroke="#ff4848" stroke-width="1" stroke-linejoin="miter"/>
<path d="M243.28 243.15 L244.22 245.71 L246.94 245.81 L244.8 247.49 L245.54 250.11 L243.28 248.6 L241.02 250.11 L241.76 247.49 L239.62 245.81 L242.34 245.71 Z" fill="#ffa8a8" stroke="#ff4848" stroke-width="1" stroke-linejoin="miter"/>
<path d="M252.88 244.35 L253.82 246.91 L256.54 247.01 L254.4 248.69 L255.14 251.31 L252.88 249.8 L250.61 251.31 L251.35 248.69 L249.21 247.01 L251.94 246.91 Z" fill="#ffa8a8" stroke="#ff4848" stroke-width="1" stroke-linejoin="miter"/>
<path d="M262.47 245.85 L263.41 248.41 L266.13 248.51 L263.99 250.19 L264.73 252.81 L262.47 251.3 L260.21 252.81 L260.95 250.19 L258.81 248.51 L261.53 248.41 Z" fill="#ffa8a8" stroke="#ff4848" stroke-width="1" stroke-linejoin="miter"/>
<path d="M272.06 247.65 L273 250.21 L275.73 250.31 L273.59 251.99 L274.33 254.61 L272.06 253.1 L269.8 254.61 L270.54 251.99 L268.4 250.31 L271.12 250.21 Z" fill="#ffa8a8" stroke="#ff4848" stroke-width="1" stroke-linejoin="miter"/>
<path d="M281.66 249.75 L282.6 252.31 L285.32 252.41 L283.18 254.09 L283.92 256.71 L281.66 255.2 L279.4 256.71 L280.14 254.09 L278 252.41 L280.72 252.31 Z" fill="#ffa8a8" stroke="#ff4848" stroke-width="1" stroke-linejoin="miter"/>
<path d="M291.25 251.55 L292.19 254.11 L294.91 254.21 L292.77 255.89 L293.51 258.51 L291.25 257 L288.99 258.51 L289.73 255.89 L287.59 254.21 L290.31 254.11 Z" fill="#ffa8a8" stroke="#ff4848" stroke-width="1" stroke-linejoin="miter"/>
<path d="M300.85 253.65 L301.79 256.21 L304.51 256.31 L302.37 257.99 L303.11 260.61 L300.85 259.1 L298.58 260.61 L299.32 257.99 L297.18 256.31 L299.91 256.21 Z" fill="#ffa8a8" stroke="#ff4848" stroke-width="1" stroke-linejoin="miter"/>
<path d="M310.44 255.75 L311.38 258.31 L314.1 258.41 L311.96 260.09 L312.7 262.71 L310.44 261.2 L308.18 262.71 L308.92 260.09 L306.78 258.41 L309.5 258.31 Z" fill="#ffa8a8" stroke="#ff4848" stroke-width="1" stroke-linejoin="miter"/>
<path d="M320.03 258.35 L320.97 260.91 L323.7 261.01 L321.56 262.69 L322.3 265.31 L320.03 263.8 L317.77 265.31 L318.51 262.69 L316.37 261.01 L319.09 260.91 Z" fill="#ffa8a8" stroke="#ff4848" stroke-width="1" stroke-linejoin="miter"/>
<path d="M329.63 260.65 L330.57 263.21 L333.29 263.31 L331.15 264.99 L331.89 267.61 L329.63 266.1 L327.37 267.61 L328.11 264.99 L325.97 263.31 L328.69 263.21 Z" fill="#ffa8a8" stroke="#ff4848" stroke-width="1" stroke-linejoin="miter"/>
<path d="M339.22 262.45 L340.16 265.01 L342.88 265.11 L340.74 266.79 L341.48 269.41 L339.22 267.9 L336.96 269.41 L337.7 266.79 L335.56 265.11 L338.28 265.01 Z" fill="#ffa8a8" stroke="#ff4848" stroke-width="1" stroke-linejoin="miter"/>
<path d="M348.82 264.15 L349.76 266.71 L352.48 266.81 L350.34 268.49 L351.08 271.11 L348.82 269.6 L346.55 271.11 L347.29 268.49 L345.15 266.81 L347.88 266.71 Z" fill="#ffa8a8" stroke="#ff4848" stroke-width="1" stroke-linejoin="miter"/>
<path d="M358.41 266.25 L359.35 268.81 L362.07 268.91 L359.93 270.59 L360.67 273.21 L358.41 271.7 L356.15 273.21 L356.89 270.59 L354.75 268.91 L357.47 268.81 Z" fill="#ffa8a8" stroke="#ff4848" stroke-width="1" stroke-linejoin="miter"/>
<path d="M368 268.15 L368.94 270.71 L371.67 270.81 L369.53 272.49 L370.27 275.11 L368 273.6 L365.74 275.11 L366.48 272.49 L364.34 270.81 L367.06 270.71 Z" fill="#ffa8a8" stroke="#ff4848" stroke-width="1" stroke-linejoin="miter"/>
<polyline points="214.5,226.3 215.46,259.2 216.9,268.9 218.34,278.5 219.78,284.2 221.22,287.1 222.65,289 224.09,291.1 233.69,300.5 243.28,306.1 252.88,309.8 262.47,313.2 272.06,316 281.66,318.2 291.25,320 300.85,321.5 310.44,323.3 320.03,324.4 329.63,325.7 339.22,326.6 348.82,327.7 358.41,328.4 368,329.3" fill="none" stroke="#444444" stroke-width="0.8"/>
<circle cx="214.5" cy="226.3" r="3.35" fill="none" stroke="#444444" stroke-width="0.8"/>
<circle cx="215.46" cy="259.2" r="3.35" fill="none" stroke="#444444" stroke-width="0.8"/>
<circle cx="216.9" cy="268.9" r="3.35" fill="none" stroke="#444444" stroke-width="0.8"/>
<circle cx="218.34" cy="278.5" r="3.35" fill="none" stroke="#444444" stroke-width="0.8"/>
<circle cx="219.78" cy="284.2" r="3.35" fill="none" stroke="#444444" stroke-width="0.8"/>
<circle cx="221.22" cy="287.1" r="3.35" fill="none" stroke="#444444" stroke-width="0.8"/>
<circle cx="222.65" cy="289" r="3.35" fill="none" stroke="#444444" stroke-width="0.8"/>
<circle cx="224.09" cy="291.1" r="3.35" fill="none" stroke="#444444" stroke-width="0.8"/>
<circle cx="233.69" cy="300.5" r="3.35" fill="none" stroke="#444444" stroke-width="0.8"/>
<circle cx="243.28" cy="306.1" r="3.35" fill="none" stroke="#444444" stroke-width="0.8"/>
<circle cx="252.88" cy="309.8" r="3.35" fill="none" stroke="#444444" stroke-width="0.8"/>
<circle cx="262.47" cy="313.2" r="3.35" fill="none" stroke="#444444" stroke-width="0.8"/>
<circle cx="272.06" cy="316" r="3.35" fill="none" stroke="#444444" stroke-width="0.8"/>
<circle cx="281.66" cy="318.2" r="3.35" fill="none" stroke="#444444" stroke-width="0.8"/>
<circle cx="291.25" cy="320" r="3.35" fill="none" stroke="#444444" stroke-width="0.8"/>
<circle cx="300.85" cy="321.5" r="3.35" fill="none" stroke="#444444" stroke-width="0.8"/>
<circle cx="310.44" cy="323.3" r="3.35" fill="none" stroke="#444444" stroke-width="0.8"/>
<circle cx="320.03" cy="324.4" r="3.35" fill="none" stroke="#444444" stroke-width="0.8"/>
<circle cx="329.63" cy="325.7" r="3.35" fill="none" stroke="#444444" stroke-width="0.8"/>
<circle cx="339.22" cy="326.6" r="3.35" fill="none" stroke="#444444" stroke-width="0.8"/>
<circle cx="348.82" cy="327.7" r="3.35" fill="none" stroke="#444444" stroke-width="0.8"/>
<circle cx="358.41" cy="328.4" r="3.35" fill="none" stroke="#444444" stroke-width="0.8"/>
<circle cx="368" cy="329.3" r="3.35" fill="none" stroke="#444444" stroke-width="0.8"/>
<line x1="475.4" y1="210.5" x2="637.8" y2="210.5" stroke="#222" stroke-width="0.9"/>
<line x1="475.4" y1="337.5" x2="637.8" y2="337.5" stroke="#222" stroke-width="0.9"/>
<line x1="478.4" y1="210.5" x2="478.4" y2="337.5" stroke="#111" stroke-width="1"/>
<line x1="637.8" y1="210.5" x2="637.8" y2="337.5" stroke="#ff0000" stroke-width="0.75"/>
<line x1="475.6" y1="337.5" x2="478.4" y2="337.5" stroke="#111" stroke-width="0.8"/>
<line x1="476.8" y1="332.72" x2="478.4" y2="332.72" stroke="#111" stroke-width="0.6"/>
<line x1="476.8" y1="329.93" x2="478.4" y2="329.93" stroke="#111" stroke-width="0.6"/>
<line x1="476.8" y1="327.95" x2="478.4" y2="327.95" stroke="#111" stroke-width="0.6"/>
<line x1="476.8" y1="326.41" x2="478.4" y2="326.41" stroke="#111" stroke-width="0.6"/>
<line x1="476.8" y1="325.15" x2="478.4" y2="325.15" stroke="#111" stroke-width="0.6"/>
<line x1="476.8" y1="324.09" x2="478.4" y2="324.09" stroke="#111" stroke-width="0.6"/>
<line x1="476.8" y1="323.17" x2="478.4" y2="323.17" stroke="#111" stroke-width="0.6"/>
<line x1="476.8" y1="322.36" x2="478.4" y2="322.36" stroke="#111" stroke-width="0.6"/>
<line x1="475.6" y1="321.63" x2="478.4" y2="321.63" stroke="#111" stroke-width="0.8"/>
<line x1="476.8" y1="316.85" x2="478.4" y2="316.85" stroke="#111" stroke-width="0.6"/>
<line x1="476.8" y1="314.06" x2="478.4" y2="314.06" stroke="#111" stroke-width="0.6"/>
<line x1="476.8" y1="312.08" x2="478.4" y2="312.08" stroke="#111" stroke-width="0.6"/>
<line x1="476.8" y1="310.54" x2="478.4" y2="310.54" stroke="#111" stroke-width="0.6"/>
<line x1="476.8" y1="309.28" x2="478.4" y2="309.28" stroke="#111" stroke-width="0.6"/>
<line x1="476.8" y1="308.22" x2="478.4" y2="308.22" stroke="#111" stroke-width="0.6"/>
<line x1="476.8" y1="307.3" x2="478.4" y2="307.3" stroke="#111" stroke-width="0.6"/>
<line x1="476.8" y1="306.49" x2="478.4" y2="306.49" stroke="#111" stroke-width="0.6"/>
<line x1="475.6" y1="305.76" x2="478.4" y2="305.76" stroke="#111" stroke-width="0.8"/>
<line x1="476.8" y1="300.98" x2="478.4" y2="300.98" stroke="#111" stroke-width="0.6"/>
<line x1="476.8" y1="298.19" x2="478.4" y2="298.19" stroke="#111" stroke-width="0.6"/>
<line x1="476.8" y1="296.21" x2="478.4" y2="296.21" stroke="#111" stroke-width="0.6"/>
<line x1="476.8" y1="294.67" x2="478.4" y2="294.67" stroke="#111" stroke-width="0.6"/>
<line x1="476.8" y1="293.41" x2="478.4" y2="293.41" stroke="#111" stroke-width="0.6"/>
<line x1="476.8" y1="292.35" x2="478.4" y2="292.35" stroke="#111" stroke-width="0.6"/>
<line x1="476.8" y1="291.43" x2="478.4" y2="291.43" stroke="#111" stroke-width="0.6"/>
<line x1="476.8" y1="290.62" x2="478.4" y2="290.62" stroke="#111" stroke-width="0.6"/>
<line x1="475.6" y1="289.89" x2="478.4" y2="289.89" stroke="#111" stroke-width="0.8"/>
<line x1="476.8" y1="285.11" x2="478.4" y2="285.11" stroke="#111" stroke-width="0.6"/>
<line x1="476.8" y1="282.32" x2="478.4" y2="282.32" stroke="#111" stroke-width="0.6"/>
<line x1="476.8" y1="280.34" x2="478.4" y2="280.34" stroke="#111" stroke-width="0.6"/>
<line x1="476.8" y1="278.8" x2="478.4" y2="278.8" stroke="#111" stroke-width="0.6"/>
<line x1="476.8" y1="277.54" x2="478.4" y2="277.54" stroke="#111" stroke-width="0.6"/>
<line x1="476.8" y1="276.48" x2="478.4" y2="276.48" stroke="#111" stroke-width="0.6"/>
<line x1="476.8" y1="275.56" x2="478.4" y2="275.56" stroke="#111" stroke-width="0.6"/>
<line x1="476.8" y1="274.75" x2="478.4" y2="274.75" stroke="#111" stroke-width="0.6"/>
<line x1="475.6" y1="274.02" x2="478.4" y2="274.02" stroke="#111" stroke-width="0.8"/>
<line x1="476.8" y1="269.24" x2="478.4" y2="269.24" stroke="#111" stroke-width="0.6"/>
<line x1="476.8" y1="266.45" x2="478.4" y2="266.45" stroke="#111" stroke-width="0.6"/>
<line x1="476.8" y1="264.47" x2="478.4" y2="264.47" stroke="#111" stroke-width="0.6"/>
<line x1="476.8" y1="262.93" x2="478.4" y2="262.93" stroke="#111" stroke-width="0.6"/>
<line x1="476.8" y1="261.67" x2="478.4" y2="261.67" stroke="#111" stroke-width="0.6"/>
<line x1="476.8" y1="260.61" x2="478.4" y2="260.61" stroke="#111" stroke-width="0.6"/>
<line x1="476.8" y1="259.69" x2="478.4" y2="259.69" stroke="#111" stroke-width="0.6"/>
<line x1="476.8" y1="258.88" x2="478.4" y2="258.88" stroke="#111" stroke-width="0.6"/>
<line x1="475.6" y1="258.15" x2="478.4" y2="258.15" stroke="#111" stroke-width="0.8"/>
<line x1="476.8" y1="253.37" x2="478.4" y2="253.37" stroke="#111" stroke-width="0.6"/>
<line x1="476.8" y1="250.58" x2="478.4" y2="250.58" stroke="#111" stroke-width="0.6"/>
<line x1="476.8" y1="248.6" x2="478.4" y2="248.6" stroke="#111" stroke-width="0.6"/>
<line x1="476.8" y1="247.06" x2="478.4" y2="247.06" stroke="#111" stroke-width="0.6"/>
<line x1="476.8" y1="245.8" x2="478.4" y2="245.8" stroke="#111" stroke-width="0.6"/>
<line x1="476.8" y1="244.74" x2="478.4" y2="244.74" stroke="#111" stroke-width="0.6"/>
<line x1="476.8" y1="243.82" x2="478.4" y2="243.82" stroke="#111" stroke-width="0.6"/>
<line x1="476.8" y1="243.01" x2="478.4" y2="243.01" stroke="#111" stroke-width="0.6"/>
<line x1="475.6" y1="242.28" x2="478.4" y2="242.28" stroke="#111" stroke-width="0.8"/>
<line x1="476.8" y1="237.5" x2="478.4" y2="237.5" stroke="#111" stroke-width="0.6"/>
<line x1="476.8" y1="234.71" x2="478.4" y2="234.71" stroke="#111" stroke-width="0.6"/>
<line x1="476.8" y1="232.73" x2="478.4" y2="232.73" stroke="#111" stroke-width="0.6"/>
<line x1="476.8" y1="231.19" x2="478.4" y2="231.19" stroke="#111" stroke-width="0.6"/>
<line x1="476.8" y1="229.93" x2="478.4" y2="229.93" stroke="#111" stroke-width="0.6"/>
<line x1="476.8" y1="228.87" x2="478.4" y2="228.87" stroke="#111" stroke-width="0.6"/>
<line x1="476.8" y1="227.95" x2="478.4" y2="227.95" stroke="#111" stroke-width="0.6"/>
<line x1="476.8" y1="227.14" x2="478.4" y2="227.14" stroke="#111" stroke-width="0.6"/>
<line x1="475.6" y1="226.41" x2="478.4" y2="226.41" stroke="#111" stroke-width="0.8"/>
<line x1="476.8" y1="221.63" x2="478.4" y2="221.63" stroke="#111" stroke-width="0.6"/>
<line x1="476.8" y1="218.84" x2="478.4" y2="218.84" stroke="#111" stroke-width="0.6"/>
<line x1="476.8" y1="216.86" x2="478.4" y2="216.86" stroke="#111" stroke-width="0.6"/>
<line x1="476.8" y1="215.32" x2="478.4" y2="215.32" stroke="#111" stroke-width="0.6"/>
<line x1="476.8" y1="214.06" x2="478.4" y2="214.06" stroke="#111" stroke-width="0.6"/>
<line x1="476.8" y1="213" x2="478.4" y2="213" stroke="#111" stroke-width="0.6"/>
<line x1="476.8" y1="212.08" x2="478.4" y2="212.08" stroke="#111" stroke-width="0.6"/>
<line x1="476.8" y1="211.27" x2="478.4" y2="211.27" stroke="#111" stroke-width="0.6"/>
<line x1="475.6" y1="210.54" x2="478.4" y2="210.54" stroke="#111" stroke-width="0.8"/>
<text x="471.2" y="343.4" font-size="11" text-anchor="end">10<tspan font-size="7.6" dy="-4.6">3</tspan></text>
<text x="471.2" y="311.66" font-size="11" text-anchor="end">10<tspan font-size="7.6" dy="-4.6">5</tspan></text>
<text x="471.2" y="279.92" font-size="11" text-anchor="end">10<tspan font-size="7.6" dy="-4.6">7</tspan></text>
<text x="471.2" y="248.18" font-size="11" text-anchor="end">10<tspan font-size="7.6" dy="-4.6">9</tspan></text>
<text x="471.2" y="216.44" font-size="11" text-anchor="end">10<tspan font-size="7.6" dy="-4.6">11</tspan></text>
<line x1="637.8" y1="337.5" x2="640.8" y2="337.5" stroke="#ff0000" stroke-width="0.8"/>
<text x="643.4" y="341.4" font-size="11" fill="#ff0000">1450</text>
<line x1="637.8" y1="316.33" x2="639.6" y2="316.33" stroke="#ff0000" stroke-width="0.8"/>
<line x1="637.8" y1="295.17" x2="640.8" y2="295.17" stroke="#ff0000" stroke-width="0.8"/>
<text x="643.4" y="299.07" font-size="11" fill="#ff0000">1500</text>
<line x1="637.8" y1="274" x2="639.6" y2="274" stroke="#ff0000" stroke-width="0.8"/>
<line x1="637.8" y1="252.83" x2="640.8" y2="252.83" stroke="#ff0000" stroke-width="0.8"/>
<text x="643.4" y="256.73" font-size="11" fill="#ff0000">1550</text>
<line x1="637.8" y1="231.67" x2="639.6" y2="231.67" stroke="#ff0000" stroke-width="0.8"/>
<line x1="637.8" y1="210.5" x2="640.8" y2="210.5" stroke="#ff0000" stroke-width="0.8"/>
<text x="643.4" y="214.4" font-size="11" fill="#ff0000">1600</text>
<line x1="481.5" y1="337.5" x2="481.5" y2="340.5" stroke="#111" stroke-width="0.8"/>
<text x="481.5" y="353.7" font-size="11" text-anchor="middle">0</text>
<line x1="519.98" y1="337.5" x2="519.98" y2="340.5" stroke="#111" stroke-width="0.8"/>
<text x="519.98" y="353.7" font-size="11" text-anchor="middle">40</text>
<line x1="558.46" y1="337.5" x2="558.46" y2="340.5" stroke="#111" stroke-width="0.8"/>
<text x="558.46" y="353.7" font-size="11" text-anchor="middle">80</text>
<line x1="596.94" y1="337.5" x2="596.94" y2="340.5" stroke="#111" stroke-width="0.8"/>
<text x="596.94" y="353.7" font-size="11" text-anchor="middle">120</text>
<line x1="635.42" y1="337.5" x2="635.42" y2="340.5" stroke="#111" stroke-width="0.8"/>
<text x="635.42" y="353.7" font-size="11" text-anchor="middle">160</text>
<line x1="500.74" y1="337.5" x2="500.74" y2="339.3" stroke="#111" stroke-width="0.7"/>
<line x1="539.22" y1="337.5" x2="539.22" y2="339.3" stroke="#111" stroke-width="0.7"/>
<line x1="577.7" y1="337.5" x2="577.7" y2="339.3" stroke="#111" stroke-width="0.7"/>
<line x1="616.18" y1="337.5" x2="616.18" y2="339.3" stroke="#111" stroke-width="0.7"/>
<text x="0" y="0" font-size="11" text-anchor="middle" transform="translate(444.2 274) rotate(-90)">Q-factors</text>
<text x="0" y="0" font-size="11" text-anchor="middle" fill="#ff0000" transform="translate(682.5 274) rotate(-90)">Wavelength (nm)</text>
<text x="558" y="370.2" font-size="11" text-anchor="middle"><tspan font-family="Liberation Serif, serif" font-style="italic">&#948;</tspan> (nm)</text>
<polyline points="481.5,260.6 483.42,260.7 485.35,260.8 487.27,260.9 489.2,261 491.12,261.1 500.74,261.6 510.36,262.4 519.98,263.4 529.6,264.5 539.22,265.8 548.84,269.1 558.46,271.2 568.08,273.7 577.7,276.2 587.32,278.3 596.94,281.1 606.56,283.3 616.18,285.4 625.8,287.2 635.42,289.6" fill="none" stroke="#ff4848" stroke-width="0.8"/>
<path d="M481.5 256.75 L482.44 259.31 L485.16 259.41 L483.02 261.09 L483.76 263.71 L481.5 262.2 L479.24 263.71 L479.98 261.09 L477.84 259.41 L480.56 259.31 Z" fill="#ffa8a8" stroke="#ff4848" stroke-width="1" stroke-linejoin="miter"/>
<path d="M483.42 256.85 L484.36 259.41 L487.09 259.51 L484.95 261.19 L485.69 263.81 L483.42 262.3 L481.16 263.81 L481.9 261.19 L479.76 259.51 L482.48 259.41 Z" fill="#ffa8a8" stroke="#ff4848" stroke-width="1" stroke-linejoin="miter"/>
<path d="M485.35 256.95 L486.29 259.51 L489.01 259.61 L486.87 261.29 L487.61 263.91 L485.35 262.4 L483.09 263.91 L483.83 261.29 L481.69 259.61 L484.41 259.51 Z" fill="#ffa8a8" stroke="#ff4848" stroke-width="1" stroke-linejoin="miter"/>
<path d="M487.27 257.05 L488.21 259.61 L490.93 259.71 L488.79 261.39 L489.53 264.01 L487.27 262.5 L485.01 264.01 L485.75 261.39 L483.61 259.71 L486.33 259.61 Z" fill="#ffa8a8" stroke="#ff4848" stroke-width="1" stroke-linejoin="miter"/>
<path d="M489.2 257.15 L490.14 259.71 L492.86 259.81 L490.72 261.49 L491.46 264.11 L489.2 262.6 L486.93 264.11 L487.67 261.49 L485.53 259.81 L488.26 259.71 Z" fill="#ffa8a8" stroke="#ff4848" stroke-width="1" stroke-linejoin="miter"/>
<path d="M491.12 257.25 L492.06 259.81 L494.78 259.91 L492.64 261.59 L493.38 264.21 L491.12 262.7 L488.86 264.21 L489.6 261.59 L487.46 259.91 L490.18 259.81 Z" fill="#ffa8a8" stroke="#ff4848" stroke-width="1" stroke-linejoin="miter"/>
<path d="M500.74 257.75 L501.68 260.31 L504.4 260.41 L502.26 262.09 L503 264.71 L500.74 263.2 L498.48 264.71 L499.22 262.09 L497.08 260.41 L499.8 260.31 Z" fill="#ffa8a8" stroke="#ff4848" stroke-width="1" stroke-linejoin="miter"/>
<path d="M510.36 258.55 L511.3 261.11 L514.02 261.21 L511.88 262.89 L512.62 265.51 L510.36 264 L508.1 265.51 L508.84 262.89 L506.7 261.21 L509.42 261.11 Z" fill="#ffa8a8" stroke="#ff4848" stroke-width="1" stroke-linejoin="miter"/>
<path d="M519.98 259.55 L520.92 262.11 L523.64 262.21 L521.5 263.89 L522.24 266.51 L519.98 265 L517.72 266.51 L518.46 263.89 L516.32 262.21 L519.04 262.11 Z" fill="#ffa8a8" stroke="#ff4848" stroke-width="1" stroke-linejoin="miter"/>
<path d="M529.6 260.65 L530.54 263.21 L533.26 263.31 L531.12 264.99 L531.86 267.61 L529.6 266.1 L527.34 267.61 L528.08 264.99 L525.94 263.31 L528.66 263.21 Z" fill="#ffa8a8" stroke="#ff4848" stroke-width="1" stroke-linejoin="miter"/>
<path d="M539.22 261.95 L540.16 264.51 L542.88 264.61 L540.74 266.29 L541.48 268.91 L539.22 267.4 L536.96 268.91 L537.7 266.29 L535.56 264.61 L538.28 264.51 Z" fill="#ffa8a8" stroke="#ff4848" stroke-width="1" stroke-linejoin="miter"/>
<path d="M548.84 265.25 L549.78 267.81 L552.5 267.91 L550.36 269.59 L551.1 272.21 L548.84 270.7 L546.58 272.21 L547.32 269.59 L545.18 267.91 L547.9 267.81 Z" fill="#ffa8a8" stroke="#ff4848" stroke-width="1" stroke-linejoin="miter"/>
<path d="M558.46 267.35 L559.4 269.91 L562.12 270.01 L559.98 271.69 L560.72 274.31 L558.46 272.8 L556.2 274.31 L556.94 271.69 L554.8 270.01 L557.52 269.91 Z" fill="#ffa8a8" stroke="#ff4848" stroke-width="1" stroke-linejoin="miter"/>
<path d="M568.08 269.85 L569.02 272.41 L571.74 272.51 L569.6 274.19 L570.34 276.81 L568.08 275.3 L565.82 276.81 L566.56 274.19 L564.42 272.51 L567.14 272.41 Z" fill="#ffa8a8" stroke="#ff4848" stroke-width="1" stroke-linejoin="miter"/>
<path d="M577.7 272.35 L578.64 274.91 L581.36 275.01 L579.22 276.69 L579.96 279.31 L577.7 277.8 L575.44 279.31 L576.18 276.69 L574.04 275.01 L576.76 274.91 Z" fill="#ffa8a8" stroke="#ff4848" stroke-width="1" stroke-linejoin="miter"/>
<path d="M587.32 274.45 L588.26 277.01 L590.98 277.11 L588.84 278.79 L589.58 281.41 L587.32 279.9 L585.06 281.41 L585.8 278.79 L583.66 277.11 L586.38 277.01 Z" fill="#ffa8a8" stroke="#ff4848" stroke-width="1" stroke-linejoin="miter"/>
<path d="M596.94 277.25 L597.88 279.81 L600.6 279.91 L598.46 281.59 L599.2 284.21 L596.94 282.7 L594.68 284.21 L595.42 281.59 L593.28 279.91 L596 279.81 Z" fill="#ffa8a8" stroke="#ff4848" stroke-width="1" stroke-linejoin="miter"/>
<path d="M606.56 279.45 L607.5 282.01 L610.22 282.11 L608.08 283.79 L608.82 286.41 L606.56 284.9 L604.3 286.41 L605.04 283.79 L602.9 282.11 L605.62 282.01 Z" fill="#ffa8a8" stroke="#ff4848" stroke-width="1" stroke-linejoin="miter"/>
<path d="M616.18 281.55 L617.12 284.11 L619.84 284.21 L617.7 285.89 L618.44 288.51 L616.18 287 L613.92 288.51 L614.66 285.89 L612.52 284.21 L615.24 284.11 Z" fill="#ffa8a8" stroke="#ff4848" stroke-width="1" stroke-linejoin="miter"/>
<path d="M625.8 283.35 L626.74 285.91 L629.46 286.01 L627.32 287.69 L628.06 290.31 L625.8 288.8 L623.54 290.31 L624.28 287.69 L622.14 286.01 L624.86 285.91 Z" fill="#ffa8a8" stroke="#ff4848" stroke-width="1" stroke-linejoin="miter"/>
<path d="M635.42 285.75 L636.36 288.31 L639.08 288.41 L636.94 290.09 L637.68 292.71 L635.42 291.2 L633.16 292.71 L633.9 290.09 L631.76 288.41 L634.48 288.31 Z" fill="#ffa8a8" stroke="#ff4848" stroke-width="1" stroke-linejoin="miter"/>
<polyline points="481.5,220.8 483.04,247.9 483.52,257.6 485.06,268.1 486.98,273.7 488.91,277.3 490.74,280.6 500.74,290.6 510.36,296 519.98,299.9 529.6,302.6 539.22,305.2 548.84,306.8 558.46,308.4 568.08,309.9 577.7,310.9 587.32,312 596.94,313 606.56,313.8 616.18,314.1 625.8,314.5 635.42,314.8" fill="none" stroke="#444444" stroke-width="0.8"/>
<circle cx="481.5" cy="220.8" r="3.35" fill="none" stroke="#444444" stroke-width="0.8"/>
<circle cx="483.04" cy="247.9" r="3.35" fill="none" stroke="#444444" stroke-width="0.8"/>
<circle cx="483.52" cy="257.6" r="3.35" fill="none" stroke="#444444" stroke-width="0.8"/>
<circle cx="485.06" cy="268.1" r="3.35" fill="none" stroke="#444444" stroke-width="0.8"/>
<circle cx="486.98" cy="273.7" r="3.35" fill="none" stroke="#444444" stroke-width="0.8"/>
<circle cx="488.91" cy="277.3" r="3.35" fill="none" stroke="#444444" stroke-width="0.8"/>
<circle cx="490.74" cy="280.6" r="3.35" fill="none" stroke="#444444" stroke-width="0.8"/>
<circle cx="500.74" cy="290.6" r="3.35" fill="none" stroke="#444444" stroke-width="0.8"/>
<circle cx="510.36" cy="296" r="3.35" fill="none" stroke="#444444" stroke-width="0.8"/>
<circle cx="519.98" cy="299.9" r="3.35" fill="none" stroke="#444444" stroke-width="0.8"/>
<circle cx="529.6" cy="302.6" r="3.35" fill="none" stroke="#444444" stroke-width="0.8"/>
<circle cx="539.22" cy="305.2" r="3.35" fill="none" stroke="#444444" stroke-width="0.8"/>
<circle cx="548.84" cy="306.8" r="3.35" fill="none" stroke="#444444" stroke-width="0.8"/>
<circle cx="558.46" cy="308.4" r="3.35" fill="none" stroke="#444444" stroke-width="0.8"/>
<circle cx="568.08" cy="309.9" r="3.35" fill="none" stroke="#444444" stroke-width="0.8"/>
<circle cx="577.7" cy="310.9" r="3.35" fill="none" stroke="#444444" stroke-width="0.8"/>
<circle cx="587.32" cy="312" r="3.35" fill="none" stroke="#444444" stroke-width="0.8"/>
<circle cx="596.94" cy="313" r="3.35" fill="none" stroke="#444444" stroke-width="0.8"/>
<circle cx="606.56" cy="313.8" r="3.35" fill="none" stroke="#444444" stroke-width="0.8"/>
<circle cx="616.18" cy="314.1" r="3.35" fill="none" stroke="#444444" stroke-width="0.8"/>
<circle cx="625.8" cy="314.5" r="3.35" fill="none" stroke="#444444" stroke-width="0.8"/>
<circle cx="635.42" cy="314.8" r="3.35" fill="none" stroke="#444444" stroke-width="0.8"/>
<text x="217.2" y="68.1" font-size="10">M<tspan font-size="7.8" dy="3.7">A1</tspan></text>
<text x="483.2" y="71" font-size="10">M<tspan font-size="7.8" dy="3.8">A2</tspan></text>
<text x="219.3" y="225.8" font-size="10">M<tspan font-size="7.8" dy="2.6">A1</tspan></text>
<text x="485.9" y="222.7" font-size="10">M<tspan font-size="7.8" dy="2.9">A2</tspan></text>
<clipPath id="clb"><rect x="216.8" y="91.2" width="49.2" height="49.2"/></clipPath>
<g clip-path="url(#clb)">
<rect x="216.8" y="91.2" width="49.2" height="49.2" fill="#0000f0"/>
<g filter="url(#blur1)">
<rect x="217.42" y="91.81" width="23.37" height="23.37" rx="9.35" fill="#8888ff"/><rect x="218.58" y="92.98" width="21.03" height="21.03" rx="8.41" fill="#ffffff"/><rect x="219.99" y="94.39" width="18.23" height="18.23" rx="7.66" fill="#ffe4e4"/><rect x="221.15" y="95.55" width="15.89" height="15.89" rx="6.67" fill="#ff8a8a"/><rect x="223.02" y="97.42" width="12.15" height="12.15" rx="5.35" fill="#ff3030"/>
<rect x="242.02" y="91.81" width="23.37" height="23.37" rx="9.35" fill="#8888ff"/><rect x="243.18" y="92.98" width="21.03" height="21.03" rx="8.41" fill="#ffffff"/><rect x="244.59" y="94.39" width="18.23" height="18.23" rx="7.66" fill="#ffe4e4"/><rect x="245.75" y="95.55" width="15.89" height="15.89" rx="6.67" fill="#ff8a8a"/><rect x="247.62" y="97.42" width="12.15" height="12.15" rx="5.35" fill="#ff3030"/>
<rect x="217.42" y="116.42" width="23.37" height="23.37" rx="9.35" fill="#8888ff"/><rect x="218.58" y="117.58" width="21.03" height="21.03" rx="8.41" fill="#ffffff"/><rect x="219.99" y="118.99" width="18.23" height="18.23" rx="7.66" fill="#fff0f0"/><rect x="221.15" y="120.15" width="15.89" height="15.89" rx="6.67" fill="#ffc0c0"/><rect x="223.02" y="122.02" width="12.15" height="12.15" rx="5.35" fill="#ffa0a0"/>
<rect x="242.02" y="116.42" width="23.37" height="23.37" rx="9.35" fill="#8888ff"/><rect x="243.18" y="117.58" width="21.03" height="21.03" rx="8.41" fill="#ffffff"/><rect x="244.59" y="118.99" width="18.23" height="18.23" rx="7.66" fill="#ffe4e4"/><rect x="245.75" y="120.15" width="15.89" height="15.89" rx="6.67" fill="#ff8a8a"/><rect x="247.62" y="122.02" width="12.15" height="12.15" rx="5.35" fill="#ff3030"/>
</g>
<g filter="url(#blur05)">
<rect x="226.4" y="100.8" width="5.4" height="5.4" fill="#e00000" transform="rotate(45 229.1 103.5)"/>
<circle cx="253.7" cy="103.5" r="4.1" fill="#ff3434" stroke="#c01818" stroke-width="0.55"/>
<circle cx="229.1" cy="128.1" r="7.8" fill="#ffb0b0" stroke="#a81010" stroke-width="0.55"/>
<rect x="249" y="123.4" width="9.4" height="9.4" fill="#ff4a4a" stroke="#a00000" stroke-width="0.6" transform="rotate(-15.6 253.7 128.1)"/>
</g>
</g>
<rect x="274.6" y="97.9" width="4.6" height="35.8" fill="url(#cbar)"/>
<text x="267.4" y="95.4" font-size="9.8">Max</text>
<text x="269.4" y="143.4" font-size="9.8">Min</text>
<text x="281.2" y="119" font-size="9.8" fill="#3a3a3a">|H|</text>
<clipPath id="clc"><rect x="483.6" y="85.9" width="48.8" height="48.8"/></clipPath>
<g clip-path="url(#clc)">
<rect x="483.6" y="85.9" width="48.8" height="48.8" fill="#0000f0"/>
<g filter="url(#blur1)">
<circle cx="483.6" cy="85.9" r="11" fill="#8080ff"/><circle cx="483.6" cy="85.9" r="9.9" fill="#ffffff"/><circle cx="483.6" cy="85.9" r="8.47" fill="#fff0f0"/><circle cx="483.6" cy="85.9" r="7.37" fill="#ff6a6a"/><circle cx="483.6" cy="85.9" r="5.5" fill="#ff1414"/>
<circle cx="508" cy="86.39" r="11" fill="#8080ff"/><circle cx="508" cy="86.39" r="9.9" fill="#ffffff"/><circle cx="508" cy="86.39" r="8.47" fill="#fff0f0"/><circle cx="508" cy="86.39" r="7.37" fill="#ff6a6a"/><circle cx="508" cy="86.39" r="5.5" fill="#ff1414"/>
<circle cx="532.4" cy="85.9" r="11" fill="#8080ff"/><circle cx="532.4" cy="85.9" r="9.9" fill="#ffffff"/><circle cx="532.4" cy="85.9" r="8.47" fill="#fff0f0"/><circle cx="532.4" cy="85.9" r="7.37" fill="#ff6a6a"/><circle cx="532.4" cy="85.9" r="5.5" fill="#ff1414"/>
<circle cx="483.6" cy="108.84" r="11" fill="#8080ff"/><circle cx="483.6" cy="108.84" r="9.9" fill="#ffffff"/><circle cx="483.6" cy="108.84" r="8.47" fill="#fff0f0"/><circle cx="483.6" cy="108.84" r="7.37" fill="#ff6a6a"/><circle cx="483.6" cy="108.84" r="5.5" fill="#ff1414"/>
<circle cx="508" cy="108.84" r="11.5" fill="#8080ff"/><circle cx="508" cy="108.84" r="10.35" fill="#ffffff"/><circle cx="508" cy="108.84" r="8.86" fill="#fff0f0"/><circle cx="508" cy="108.84" r="7.71" fill="#ff6a6a"/><circle cx="508" cy="108.84" r="5.75" fill="#ff1414"/>
<circle cx="532.4" cy="108.84" r="11" fill="#8080ff"/><circle cx="532.4" cy="108.84" r="9.9" fill="#ffffff"/><circle cx="532.4" cy="108.84" r="8.47" fill="#fff0f0"/><circle cx="532.4" cy="108.84" r="7.37" fill="#ff6a6a"/><circle cx="532.4" cy="108.84" r="5.5" fill="#ff1414"/>
<circle cx="483.6" cy="134.7" r="11" fill="#8080ff"/><circle cx="483.6" cy="134.7" r="9.9" fill="#ffffff"/><circle cx="483.6" cy="134.7" r="8.47" fill="#fff0f0"/><circle cx="483.6" cy="134.7" r="7.37" fill="#ff6a6a"/><circle cx="483.6" cy="134.7" r="5.5" fill="#ff1414"/>
<circle cx="508" cy="134.7" r="11" fill="#8080ff"/><circle cx="508" cy="134.7" r="9.9" fill="#ffffff"/><circle cx="508" cy="134.7" r="8.47" fill="#fff0f0"/><circle cx="508" cy="134.7" r="7.37" fill="#ff6a6a"/><circle cx="508" cy="134.7" r="5.5" fill="#ff1414"/>
<circle cx="532.4" cy="134.7" r="11" fill="#8080ff"/><circle cx="532.4" cy="134.7" r="9.9" fill="#ffffff"/><circle cx="532.4" cy="134.7" r="8.47" fill="#fff0f0"/><circle cx="532.4" cy="134.7" r="7.37" fill="#ff6a6a"/><circle cx="532.4" cy="134.7" r="5.5" fill="#ff1414"/>
</g>
</g>
<rect x="540.9" y="92.9" width="5" height="34.8" fill="url(#cbar)"/>
<text x="537.4" y="89.7" font-size="9.8">Max</text>
<text x="537.4" y="137.7" font-size="9.8">Min</text>
<text x="547.8" y="113" font-size="9.8" fill="#3a3a3a">|H|</text>
<clipPath id="cle"><rect x="316.2" y="211.9" width="48.9" height="48.9"/></clipPath>
<g clip-path="url(#cle)">
<rect x="316.2" y="211.9" width="48.9" height="48.9" fill="#0000f0"/>
<g filter="url(#blur1)">
<rect x="316.81" y="212.51" width="23.23" height="23.23" rx="9.29" fill="#8888ff"/><rect x="317.97" y="213.67" width="20.9" height="20.9" rx="8.36" fill="#ffffff"/><rect x="319.37" y="215.07" width="18.12" height="18.12" rx="7.61" fill="#ffe4e4"/><rect x="320.53" y="216.23" width="15.79" height="15.79" rx="6.63" fill="#ff8a8a"/><rect x="322.39" y="218.09" width="12.08" height="12.08" rx="5.31" fill="#ff3030"/>
<g transform="translate(354.07 224.12) scale(1.12 1) translate(-352.88 -224.12)"><rect x="341.26" y="212.51" width="23.23" height="23.23" rx="9.29" fill="#8888ff"/><rect x="342.42" y="213.67" width="20.9" height="20.9" rx="8.36" fill="#ffffff"/><rect x="343.82" y="215.07" width="18.12" height="18.12" rx="7.61" fill="#ffe4e4"/><rect x="344.98" y="216.23" width="15.79" height="15.79" rx="6.63" fill="#ff8a8a"/><rect x="346.84" y="218.09" width="12.08" height="12.08" rx="5.31" fill="#ff3030"/></g>
<rect x="316.81" y="236.96" width="23.23" height="23.23" rx="9.29" fill="#8888ff"/><rect x="317.97" y="238.12" width="20.9" height="20.9" rx="8.36" fill="#ffffff"/><rect x="319.37" y="239.52" width="18.12" height="18.12" rx="7.61" fill="#fff0f0"/><rect x="320.53" y="240.68" width="15.79" height="15.79" rx="6.63" fill="#ffc0c0"/><rect x="322.39" y="242.54" width="12.08" height="12.08" rx="5.31" fill="#ffa0a0"/>
<rect x="341.26" y="236.96" width="23.23" height="23.23" rx="9.29" fill="#8888ff"/><rect x="342.42" y="238.12" width="20.9" height="20.9" rx="8.36" fill="#ffffff"/><rect x="343.82" y="239.52" width="18.12" height="18.12" rx="7.61" fill="#ffe4e4"/><rect x="344.98" y="240.68" width="15.79" height="15.79" rx="6.63" fill="#ff8a8a"/><rect x="346.84" y="242.54" width="12.08" height="12.08" rx="5.31" fill="#ff3030"/>
</g>
<g filter="url(#blur05)">
<rect x="325.73" y="221.43" width="5.4" height="5.4" fill="#e00000" transform="rotate(45 328.43 224.12)"/>
<circle cx="348.27" cy="224.12" r="3.6" fill="#ff9a9a" stroke="#b00000" stroke-width="0.6"/>
<circle cx="328.43" cy="248.57" r="5.9" fill="#ffb0b0" stroke="#a81010" stroke-width="0.55"/>
<rect x="348.18" y="243.88" width="9.4" height="9.4" fill="#ff4a4a" stroke="#a00000" stroke-width="0.6" transform="rotate(-15.6 352.88 248.57)"/>
</g>
</g>
<rect x="306" y="220.3" width="4.2" height="24.9" fill="url(#cbar)"/>
<text x="297.4" y="218.3" font-size="9.8">Max</text>
<text x="299" y="253.7" font-size="9.8">Min</text>
<text x="291.3" y="236" font-size="9.8" fill="#3a3a3a">|H|</text>
<clipPath id="clf"><rect x="582.9" y="211.3" width="49" height="49"/></clipPath>
<g clip-path="url(#clf)">
<rect x="582.9" y="211.3" width="49" height="49" fill="#0000f0"/>
<g filter="url(#blur1)">
<circle cx="582.9" cy="211.3" r="10.5" fill="#8080ff"/><circle cx="582.9" cy="211.3" r="9.45" fill="#ffffff"/><circle cx="582.9" cy="211.3" r="8.09" fill="#fff6f6"/><circle cx="582.9" cy="211.3" r="7.04" fill="#ffb0b0"/><circle cx="582.9" cy="211.3" r="5.25" fill="#ff8c8c"/>
<circle cx="607.4" cy="211.3" r="11" fill="#8080ff"/><circle cx="607.4" cy="211.3" r="9.9" fill="#ffffff"/><circle cx="607.4" cy="211.3" r="8.47" fill="#fff0f0"/><circle cx="607.4" cy="211.3" r="7.37" fill="#ff6a6a"/><circle cx="607.4" cy="211.3" r="5.5" fill="#ff1414"/>
<circle cx="631.9" cy="211.3" r="10.5" fill="#8080ff"/><circle cx="631.9" cy="211.3" r="9.45" fill="#ffffff"/><circle cx="631.9" cy="211.3" r="8.09" fill="#fff0f0"/><circle cx="631.9" cy="211.3" r="7.04" fill="#ff6a6a"/><circle cx="631.9" cy="211.3" r="5.25" fill="#ff1414"/>
<circle cx="582.9" cy="234.82" r="11" fill="#8080ff"/><circle cx="582.9" cy="234.82" r="9.9" fill="#ffffff"/><circle cx="582.9" cy="234.82" r="8.47" fill="#fff6f6"/><circle cx="582.9" cy="234.82" r="7.37" fill="#ffb0b0"/><circle cx="582.9" cy="234.82" r="5.5" fill="#ff8c8c"/>
<circle cx="605.93" cy="234.82" r="11.5" fill="#8080ff"/><circle cx="605.93" cy="234.82" r="10.35" fill="#ffffff"/><circle cx="605.93" cy="234.82" r="8.86" fill="#fff0f0"/><circle cx="605.93" cy="234.82" r="7.71" fill="#ff6a6a"/><circle cx="605.93" cy="234.82" r="5.75" fill="#ff1414"/>
<circle cx="631.9" cy="234.82" r="11" fill="#8080ff"/><circle cx="631.9" cy="234.82" r="9.9" fill="#ffffff"/><circle cx="631.9" cy="234.82" r="8.47" fill="#fff6f6"/><circle cx="631.9" cy="234.82" r="7.37" fill="#ffb0b0"/><circle cx="631.9" cy="234.82" r="5.5" fill="#ff8c8c"/>
<circle cx="582.9" cy="260.3" r="10.5" fill="#8080ff"/><circle cx="582.9" cy="260.3" r="9.45" fill="#ffffff"/><circle cx="582.9" cy="260.3" r="8.09" fill="#fff6f6"/><circle cx="582.9" cy="260.3" r="7.04" fill="#ffb0b0"/><circle cx="582.9" cy="260.3" r="5.25" fill="#ff8c8c"/>
<circle cx="607.4" cy="260.3" r="11" fill="#8080ff"/><circle cx="607.4" cy="260.3" r="9.9" fill="#ffffff"/><circle cx="607.4" cy="260.3" r="8.47" fill="#fff0f0"/><circle cx="607.4" cy="260.3" r="7.37" fill="#ff6a6a"/><circle cx="607.4" cy="260.3" r="5.5" fill="#ff1414"/>
<circle cx="631.9" cy="260.3" r="10.5" fill="#8080ff"/><circle cx="631.9" cy="260.3" r="9.45" fill="#ffffff"/><circle cx="631.9" cy="260.3" r="8.09" fill="#fff6f6"/><circle cx="631.9" cy="260.3" r="7.04" fill="#ffb0b0"/><circle cx="631.9" cy="260.3" r="5.25" fill="#ff8c8c"/>
</g>
</g>
<rect x="572.3" y="225.1" width="4.3" height="24.5" fill="url(#cbar)"/>
<text x="563.1" y="222.9" font-size="9.8">Max</text>
<text x="564.9" y="258.8" font-size="9.8">Min</text>
<text x="555.7" y="240" font-size="9.8" fill="#3a3a3a">|H|</text>
</g>
</svg>
</body></html>
